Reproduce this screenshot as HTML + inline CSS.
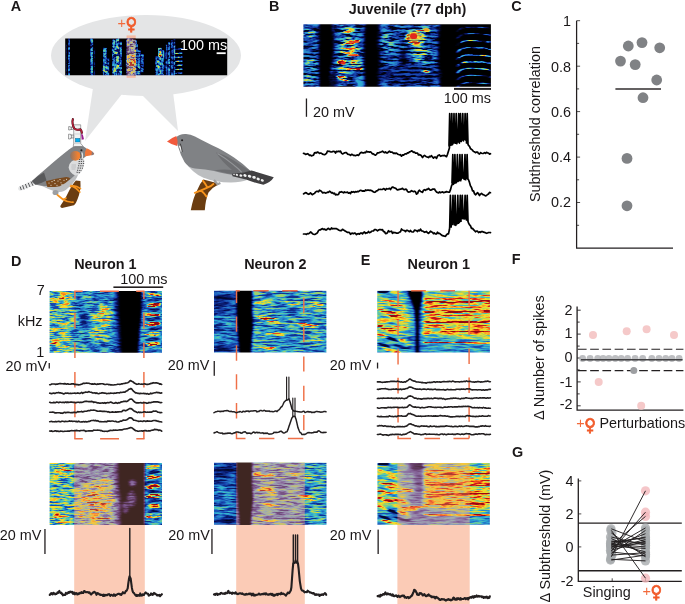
<!DOCTYPE html>
<html lang="en"><head><meta charset="utf-8"><title>Figure</title>
<style>
html,body{margin:0;padding:0;background:#fff;}
body{width:685px;height:604px;overflow:hidden;}
svg{display:block;will-change:transform;}
text{font-family:"Liberation Sans",sans-serif;font-size:14.4px;fill:#1a1718;}
.b{font-weight:bold;}
.o{fill:#f26a3b;}
.fem{font-family:"DejaVu Sans",sans-serif;font-weight:bold;font-size:16px;fill:#f15a29;stroke:#f15a29;stroke-width:0.7px;}
</style></head><body>
<svg width="685" height="604" viewBox="0 0 685 604">
<defs>
<linearGradient id="cheek" x1="0" x2="1" y1="0" y2="0"><stop offset="0" stop-color="#8a7468"/><stop offset="0.75" stop-color="#f08030"/></linearGradient>
<filter id="bl05" x="-0.5" y="-0.5" width="2" height="2"><feGaussianBlur stdDeviation="0.7"/></filter>
<filter id="bl1" x="-0.5" y="-0.5" width="2" height="2"><feGaussianBlur stdDeviation="1.2"/></filter>
<filter id="bl2" x="-0.5" y="-0.5" width="2" height="2"><feGaussianBlur stdDeviation="2.4"/></filter>
<filter id="bl3" x="-0.5" y="-0.5" width="2" height="2"><feGaussianBlur stdDeviation="3.6"/></filter>
<filter id="fA" x="0" y="0" width="1" height="1" color-interpolation-filters="sRGB"><feGaussianBlur in="SourceGraphic" stdDeviation="0.5 0.4" result="env"/><feTurbulence type="fractalNoise" baseFrequency="0.3 0.42" numOctaves="2" seed="4" result="t"/><feColorMatrix in="t" type="matrix" values="3.0 0 0 0 -1 3.0 0 0 0 -1 3.0 0 0 0 -1 0 0 0 0 1" result="n"/><feComposite in="env" in2="n" operator="arithmetic" k1="1.05" k2="0.16" k3="0" k4="0" result="v"/><feComponentTransfer in="v" result="jet"><feFuncR type="table" tableValues="0 0.031 0.086 0.149 0.188 0.439 0.784 0.98 0.98 0.894 0.588"/><feFuncG type="table" tableValues="0 0.071 0.259 0.471 0.698 0.796 0.847 0.871 0.549 0.157 0.039"/><feFuncB type="table" tableValues="0 0.373 0.675 0.784 0.831 0.588 0.275 0.157 0.118 0.118 0.078"/><feFuncA type="linear" slope="0" intercept="1"/></feComponentTransfer></filter>
<filter id="fAt" x="0" y="0" width="1" height="1" color-interpolation-filters="sRGB"><feGaussianBlur in="SourceGraphic" stdDeviation="0.5 0.4" result="env"/><feTurbulence type="fractalNoise" baseFrequency="0.3 0.42" numOctaves="2" seed="4" result="t"/><feColorMatrix in="t" type="matrix" values="3.0 0 0 0 -1 3.0 0 0 0 -1 3.0 0 0 0 -1 0 0 0 0 1" result="n"/><feComposite in="env" in2="n" operator="arithmetic" k1="1.05" k2="0.16" k3="0" k4="0" result="v"/><feComponentTransfer in="v" result="jet"><feFuncR type="table" tableValues="0 0.031 0.086 0.149 0.188 0.439 0.784 0.98 0.98 0.894 0.588"/><feFuncG type="table" tableValues="0 0.071 0.259 0.471 0.698 0.796 0.847 0.871 0.549 0.157 0.039"/><feFuncB type="table" tableValues="0 0.373 0.675 0.784 0.831 0.588 0.275 0.157 0.118 0.118 0.078"/><feFuncA type="linear" slope="0" intercept="1"/></feComponentTransfer><feColorMatrix in="jet" type="matrix" values="0.72 -0.04 0.32 0 0.247 0.10 0.60 0.10 0 0.149 0.0 0.0 0.68 0 0.133 0 0 0 1 0"/></filter>
<clipPath id="cbA"><rect x="126.6" y="38.4" width="9.1" height="36.8"/></clipPath>
<filter id="fB" x="0" y="0" width="1" height="1" color-interpolation-filters="sRGB"><feGaussianBlur in="SourceGraphic" stdDeviation="0.8 0.4" result="env"/><feTurbulence type="fractalNoise" baseFrequency="0.09 0.5" numOctaves="3" seed="11" result="t"/><feColorMatrix in="t" type="matrix" values="3.2 0 0 0 -1.1 3.2 0 0 0 -1.1 3.2 0 0 0 -1.1 0 0 0 0 1" result="n"/><feComposite in="env" in2="n" operator="arithmetic" k1="1.55" k2="0.12" k3="0" k4="0" result="v"/><feComponentTransfer in="v" result="jet"><feFuncR type="table" tableValues="0 0.031 0.086 0.149 0.188 0.439 0.784 0.98 0.98 0.894 0.588"/><feFuncG type="table" tableValues="0 0.071 0.259 0.471 0.698 0.796 0.847 0.871 0.549 0.157 0.039"/><feFuncB type="table" tableValues="0 0.373 0.675 0.784 0.831 0.588 0.275 0.157 0.118 0.118 0.078"/><feFuncA type="linear" slope="0" intercept="1"/></feComponentTransfer></filter>
<filter id="fD1" x="0" y="0" width="1" height="1" color-interpolation-filters="sRGB"><feGaussianBlur in="SourceGraphic" stdDeviation="1.0 0.5" result="env"/><feTurbulence type="fractalNoise" baseFrequency="0.1 0.6" numOctaves="3" seed="3" result="t"/><feColorMatrix in="t" type="matrix" values="2.7 0 0 0 -0.85 2.7 0 0 0 -0.85 2.7 0 0 0 -0.85 0 0 0 0 1" result="n"/><feComposite in="env" in2="n" operator="arithmetic" k1="1.05" k2="0.45" k3="0" k4="0" result="v"/><feComponentTransfer in="v" result="jet"><feFuncR type="table" tableValues="0 0.031 0.086 0.149 0.188 0.439 0.784 0.98 0.98 0.894 0.588"/><feFuncG type="table" tableValues="0 0.071 0.259 0.471 0.698 0.796 0.847 0.871 0.549 0.157 0.039"/><feFuncB type="table" tableValues="0 0.373 0.675 0.784 0.831 0.588 0.275 0.157 0.118 0.118 0.078"/><feFuncA type="linear" slope="0" intercept="1"/></feComponentTransfer></filter>
<filter id="fD2" x="0" y="0" width="1" height="1" color-interpolation-filters="sRGB"><feGaussianBlur in="SourceGraphic" stdDeviation="1.0 0.5" result="env"/><feTurbulence type="fractalNoise" baseFrequency="0.08 0.6" numOctaves="3" seed="8" result="t"/><feColorMatrix in="t" type="matrix" values="2.7 0 0 0 -0.85 2.7 0 0 0 -0.85 2.7 0 0 0 -0.85 0 0 0 0 1" result="n"/><feComposite in="env" in2="n" operator="arithmetic" k1="1.05" k2="0.45" k3="0" k4="0" result="v"/><feComponentTransfer in="v" result="jet"><feFuncR type="table" tableValues="0 0.031 0.086 0.149 0.188 0.439 0.784 0.98 0.98 0.894 0.588"/><feFuncG type="table" tableValues="0 0.071 0.259 0.471 0.698 0.796 0.847 0.871 0.549 0.157 0.039"/><feFuncB type="table" tableValues="0 0.373 0.675 0.784 0.831 0.588 0.275 0.157 0.118 0.118 0.078"/><feFuncA type="linear" slope="0" intercept="1"/></feComponentTransfer></filter>
<filter id="fE" x="0" y="0" width="1" height="1" color-interpolation-filters="sRGB"><feGaussianBlur in="SourceGraphic" stdDeviation="0.8 0.4" result="env"/><feTurbulence type="fractalNoise" baseFrequency="0.07 0.6" numOctaves="3" seed="5" result="t"/><feColorMatrix in="t" type="matrix" values="2.4 0 0 0 -0.7 2.4 0 0 0 -0.7 2.4 0 0 0 -0.7 0 0 0 0 1" result="n"/><feComposite in="env" in2="n" operator="arithmetic" k1="0.78" k2="0.62" k3="0" k4="0" result="v"/><feComponentTransfer in="v" result="jet"><feFuncR type="table" tableValues="0 0.031 0.086 0.149 0.188 0.439 0.784 0.98 0.98 0.894 0.588"/><feFuncG type="table" tableValues="0 0.071 0.259 0.471 0.698 0.796 0.847 0.871 0.549 0.157 0.039"/><feFuncB type="table" tableValues="0 0.373 0.675 0.784 0.831 0.588 0.275 0.157 0.118 0.118 0.078"/><feFuncA type="linear" slope="0" intercept="1"/></feComponentTransfer></filter>
<filter id="fD1t" x="0" y="0" width="1" height="1" color-interpolation-filters="sRGB"><feGaussianBlur in="SourceGraphic" stdDeviation="1.0 0.5" result="env"/><feTurbulence type="fractalNoise" baseFrequency="0.1 0.6" numOctaves="3" seed="3" result="t"/><feColorMatrix in="t" type="matrix" values="2.7 0 0 0 -0.85 2.7 0 0 0 -0.85 2.7 0 0 0 -0.85 0 0 0 0 1" result="n"/><feComposite in="env" in2="n" operator="arithmetic" k1="1.05" k2="0.45" k3="0" k4="0" result="v"/><feComponentTransfer in="v" result="jet"><feFuncR type="table" tableValues="0 0.031 0.086 0.149 0.188 0.439 0.784 0.98 0.98 0.894 0.588"/><feFuncG type="table" tableValues="0 0.071 0.259 0.471 0.698 0.796 0.847 0.871 0.549 0.157 0.039"/><feFuncB type="table" tableValues="0 0.373 0.675 0.784 0.831 0.588 0.275 0.157 0.118 0.118 0.078"/><feFuncA type="linear" slope="0" intercept="1"/></feComponentTransfer><feColorMatrix in="jet" type="matrix" values="0.72 -0.04 0.32 0 0.247 0.10 0.60 0.10 0 0.149 0.0 0.0 0.68 0 0.133 0 0 0 1 0"/></filter>
<filter id="fD2t" x="0" y="0" width="1" height="1" color-interpolation-filters="sRGB"><feGaussianBlur in="SourceGraphic" stdDeviation="1.0 0.5" result="env"/><feTurbulence type="fractalNoise" baseFrequency="0.08 0.6" numOctaves="3" seed="8" result="t"/><feColorMatrix in="t" type="matrix" values="2.7 0 0 0 -0.85 2.7 0 0 0 -0.85 2.7 0 0 0 -0.85 0 0 0 0 1" result="n"/><feComposite in="env" in2="n" operator="arithmetic" k1="1.05" k2="0.45" k3="0" k4="0" result="v"/><feComponentTransfer in="v" result="jet"><feFuncR type="table" tableValues="0 0.031 0.086 0.149 0.188 0.439 0.784 0.98 0.98 0.894 0.588"/><feFuncG type="table" tableValues="0 0.071 0.259 0.471 0.698 0.796 0.847 0.871 0.549 0.157 0.039"/><feFuncB type="table" tableValues="0 0.373 0.675 0.784 0.831 0.588 0.275 0.157 0.118 0.118 0.078"/><feFuncA type="linear" slope="0" intercept="1"/></feComponentTransfer><feColorMatrix in="jet" type="matrix" values="0.72 -0.04 0.32 0 0.247 0.10 0.60 0.10 0 0.149 0.0 0.0 0.68 0 0.133 0 0 0 1 0"/></filter>
<filter id="fEt" x="0" y="0" width="1" height="1" color-interpolation-filters="sRGB"><feGaussianBlur in="SourceGraphic" stdDeviation="0.8 0.4" result="env"/><feTurbulence type="fractalNoise" baseFrequency="0.07 0.6" numOctaves="3" seed="5" result="t"/><feColorMatrix in="t" type="matrix" values="2.4 0 0 0 -0.7 2.4 0 0 0 -0.7 2.4 0 0 0 -0.7 0 0 0 0 1" result="n"/><feComposite in="env" in2="n" operator="arithmetic" k1="0.78" k2="0.62" k3="0" k4="0" result="v"/><feComponentTransfer in="v" result="jet"><feFuncR type="table" tableValues="0 0.031 0.086 0.149 0.188 0.439 0.784 0.98 0.98 0.894 0.588"/><feFuncG type="table" tableValues="0 0.071 0.259 0.471 0.698 0.796 0.847 0.871 0.549 0.157 0.039"/><feFuncB type="table" tableValues="0 0.373 0.675 0.784 0.831 0.588 0.275 0.157 0.118 0.118 0.078"/><feFuncA type="linear" slope="0" intercept="1"/></feComponentTransfer><feColorMatrix in="jet" type="matrix" values="0.72 -0.04 0.32 0 0.247 0.10 0.60 0.10 0 0.149 0.0 0.0 0.68 0 0.133 0 0 0 1 0"/></filter>
<clipPath id="cA"><rect x="65.2" y="38.4" width="162" height="36.8"/></clipPath>
<clipPath id="cB"><rect x="303.4" y="24.3" width="187.5" height="62.4"/></clipPath>
<clipPath id="cD1"><rect x="49.6" y="291" width="112.4" height="61.8"/></clipPath>
<clipPath id="cD2"><rect x="214" y="290.8" width="112.4" height="61.6"/></clipPath>
<clipPath id="cE"><rect x="377.2" y="290.8" width="112.7" height="61.8"/></clipPath>
<clipPath id="cD1L"><rect x="49.6" y="463.1" width="112.4" height="62"/></clipPath>
<clipPath id="cD2L"><rect x="214" y="462.8" width="112.5" height="62"/></clipPath>
<clipPath id="cEL"><rect x="377.4" y="463" width="112.4" height="61.8"/></clipPath>
<clipPath id="cbD1L"><rect x="74.2" y="463.1" width="70.6" height="62"/></clipPath>
<clipPath id="cbD2L"><rect x="236.2" y="462.8" width="68.6" height="62"/></clipPath>
<clipPath id="cbEL"><rect x="397.4" y="463" width="72.3" height="61.8"/></clipPath>
</defs>
<g fill="#e4e5e6"><ellipse cx="146" cy="55.5" rx="95" ry="40.5"/><polygon points="93,88 122,94 85,141"/><polygon points="141,94 173,92 178,131"/></g>
<rect x="74.2" y="463.1" width="70.6" height="141.89999999999998" fill="#fbcbb6"/>
<rect x="236.2" y="462.8" width="68.6" height="142.2" fill="#fbcbb6"/>
<rect x="397.4" y="463" width="72.3" height="142" fill="#fbcbb6"/>
<rect x="126.6" y="35.4" width="9.1" height="42.4" fill="#f5bba3"/>
<g clip-path="url(#cA)"><g filter="url(#fA)">
<rect x="59.2" y="32.4" width="174.5" height="49.5" fill="rgb(0,0,0)"/>
<rect x="68.2" y="38.4" width="1.7" height="37.5" fill="rgb(92,92,92)"/>
<rect x="66.2" y="44.4" width="0.8" height="31.5" fill="rgb(31,31,31)"/>
<rect x="90.5" y="38.4" width="2.6" height="37.5" fill="rgb(102,102,102)"/>
<rect x="94.2" y="48.4" width="0.9" height="27.5" fill="rgb(36,36,36)"/>
<rect x="103.1" y="47.9" width="3.6" height="28.0" fill="rgb(107,107,107)"/>
<rect x="107.2" y="58.4" width="2" height="17.5" fill="rgb(76,76,76)"/>
<ellipse cx="105.2" cy="69.4" rx="2" ry="4" fill="rgb(153,153,153)" filter="url(#bl1)"/>
<rect x="112.3" y="39.4" width="3" height="36.5" fill="rgb(102,102,102)"/>
<rect x="115.8" y="38.4" width="3.4" height="37.5" fill="rgb(117,117,117)"/>
<rect x="119.7" y="41.4" width="2.2" height="34.5" fill="rgb(97,97,97)"/>
<ellipse cx="117.2" cy="68.4" rx="3" ry="5" fill="rgb(158,158,158)" filter="url(#bl1)"/>
<ellipse cx="115.2" cy="50.4" rx="2" ry="5" fill="rgb(133,133,133)" filter="url(#bl1)"/>
<rect x="126.6" y="38.4" width="3.6" height="37.5" fill="rgb(128,128,128)"/>
<rect x="130.3" y="38.4" width="3.4" height="37.5" fill="rgb(140,140,140)"/>
<rect x="133.9" y="40.4" width="2.6" height="35.5" fill="rgb(128,128,128)"/>
<ellipse cx="131.7" cy="62.4" rx="4.5" ry="8.5" fill="rgb(209,209,209)" filter="url(#bl1)"/>
<ellipse cx="131.4" cy="63.4" rx="2.5" ry="5" fill="rgb(242,242,242)"/>
<rect x="138.0" y="50.4" width="2.4" height="24" fill="rgb(107,107,107)"/>
<rect x="141.1" y="54.4" width="2.6" height="18" fill="rgb(92,92,92)"/>
<rect x="136.9" y="44.4" width="1" height="30" fill="rgb(76,76,76)"/>
<rect x="155.5" y="56.4" width="2.4" height="19" fill="rgb(92,92,92)"/>
<rect x="158.1" y="47.9" width="3.4" height="27.5" fill="rgb(112,112,112)"/>
<rect x="161.8" y="50.4" width="2.4" height="25" fill="rgb(102,102,102)"/>
<ellipse cx="160.2" cy="54.2" rx="1.8" ry="3.2" fill="rgb(242,242,242)"/>
<ellipse cx="158.7" cy="64.4" rx="1.8" ry="5" fill="rgb(148,148,148)" filter="url(#bl1)"/>
<rect x="165.9" y="44.4" width="1.6" height="31.5" fill="rgb(82,82,82)"/>
<rect x="168.2" y="42.4" width="2" height="33.5" fill="rgb(102,102,102)"/>
<rect x="171.2" y="40.4" width="1.6" height="35.5" fill="rgb(87,87,87)"/>
<rect x="173.6" y="39.4" width="1.6" height="36.5" fill="rgb(102,102,102)"/>
<rect x="164.7" y="52.4" width="1" height="23.5" fill="rgb(51,51,51)"/>
<line x1="175.7" y1="49.1" x2="182.0" y2="48.8" stroke="rgb(115,115,115)" stroke-width="1.0" stroke-linecap="round"/>
<line x1="175.7" y1="53.4" x2="182.0" y2="53.1" stroke="rgb(153,153,153)" stroke-width="1.0" stroke-linecap="round"/>
<line x1="175.7" y1="57.4" x2="182.0" y2="57.1" stroke="rgb(184,184,184)" stroke-width="1.0" stroke-linecap="round"/>
<line x1="175.7" y1="61.4" x2="182.0" y2="61.1" stroke="rgb(199,199,199)" stroke-width="1.0" stroke-linecap="round"/>
<line x1="175.7" y1="65.4" x2="182.0" y2="65.1" stroke="rgb(184,184,184)" stroke-width="1.0" stroke-linecap="round"/>
<line x1="175.7" y1="69.5" x2="182.0" y2="69.2" stroke="rgb(158,158,158)" stroke-width="1.0" stroke-linecap="round"/>
<line x1="175.7" y1="73.4" x2="182.0" y2="73.1" stroke="rgb(115,115,115)" stroke-width="1.0" stroke-linecap="round"/>
</g></g>
<g clip-path="url(#cbA)"><g filter="url(#fAt)">
<rect x="59.2" y="32.4" width="174.5" height="49.5" fill="rgb(0,0,0)"/>
<rect x="68.2" y="38.4" width="1.7" height="37.5" fill="rgb(92,92,92)"/>
<rect x="66.2" y="44.4" width="0.8" height="31.5" fill="rgb(31,31,31)"/>
<rect x="90.5" y="38.4" width="2.6" height="37.5" fill="rgb(102,102,102)"/>
<rect x="94.2" y="48.4" width="0.9" height="27.5" fill="rgb(36,36,36)"/>
<rect x="103.1" y="47.9" width="3.6" height="28.0" fill="rgb(107,107,107)"/>
<rect x="107.2" y="58.4" width="2" height="17.5" fill="rgb(76,76,76)"/>
<ellipse cx="105.2" cy="69.4" rx="2" ry="4" fill="rgb(153,153,153)" filter="url(#bl1)"/>
<rect x="112.3" y="39.4" width="3" height="36.5" fill="rgb(102,102,102)"/>
<rect x="115.8" y="38.4" width="3.4" height="37.5" fill="rgb(117,117,117)"/>
<rect x="119.7" y="41.4" width="2.2" height="34.5" fill="rgb(97,97,97)"/>
<ellipse cx="117.2" cy="68.4" rx="3" ry="5" fill="rgb(158,158,158)" filter="url(#bl1)"/>
<ellipse cx="115.2" cy="50.4" rx="2" ry="5" fill="rgb(133,133,133)" filter="url(#bl1)"/>
<rect x="126.6" y="38.4" width="3.6" height="37.5" fill="rgb(128,128,128)"/>
<rect x="130.3" y="38.4" width="3.4" height="37.5" fill="rgb(140,140,140)"/>
<rect x="133.9" y="40.4" width="2.6" height="35.5" fill="rgb(128,128,128)"/>
<ellipse cx="131.7" cy="62.4" rx="4.5" ry="8.5" fill="rgb(209,209,209)" filter="url(#bl1)"/>
<ellipse cx="131.4" cy="63.4" rx="2.5" ry="5" fill="rgb(242,242,242)"/>
<rect x="138.0" y="50.4" width="2.4" height="24" fill="rgb(107,107,107)"/>
<rect x="141.1" y="54.4" width="2.6" height="18" fill="rgb(92,92,92)"/>
<rect x="136.9" y="44.4" width="1" height="30" fill="rgb(76,76,76)"/>
<rect x="155.5" y="56.4" width="2.4" height="19" fill="rgb(92,92,92)"/>
<rect x="158.1" y="47.9" width="3.4" height="27.5" fill="rgb(112,112,112)"/>
<rect x="161.8" y="50.4" width="2.4" height="25" fill="rgb(102,102,102)"/>
<ellipse cx="160.2" cy="54.2" rx="1.8" ry="3.2" fill="rgb(242,242,242)"/>
<ellipse cx="158.7" cy="64.4" rx="1.8" ry="5" fill="rgb(148,148,148)" filter="url(#bl1)"/>
<rect x="165.9" y="44.4" width="1.6" height="31.5" fill="rgb(82,82,82)"/>
<rect x="168.2" y="42.4" width="2" height="33.5" fill="rgb(102,102,102)"/>
<rect x="171.2" y="40.4" width="1.6" height="35.5" fill="rgb(87,87,87)"/>
<rect x="173.6" y="39.4" width="1.6" height="36.5" fill="rgb(102,102,102)"/>
<rect x="164.7" y="52.4" width="1" height="23.5" fill="rgb(51,51,51)"/>
<line x1="175.7" y1="49.1" x2="182.0" y2="48.8" stroke="rgb(115,115,115)" stroke-width="1.0" stroke-linecap="round"/>
<line x1="175.7" y1="53.4" x2="182.0" y2="53.1" stroke="rgb(153,153,153)" stroke-width="1.0" stroke-linecap="round"/>
<line x1="175.7" y1="57.4" x2="182.0" y2="57.1" stroke="rgb(184,184,184)" stroke-width="1.0" stroke-linecap="round"/>
<line x1="175.7" y1="61.4" x2="182.0" y2="61.1" stroke="rgb(199,199,199)" stroke-width="1.0" stroke-linecap="round"/>
<line x1="175.7" y1="65.4" x2="182.0" y2="65.1" stroke="rgb(184,184,184)" stroke-width="1.0" stroke-linecap="round"/>
<line x1="175.7" y1="69.5" x2="182.0" y2="69.2" stroke="rgb(158,158,158)" stroke-width="1.0" stroke-linecap="round"/>
<line x1="175.7" y1="73.4" x2="182.0" y2="73.1" stroke="rgb(115,115,115)" stroke-width="1.0" stroke-linecap="round"/>
</g></g>
<g clip-path="url(#cB)"><g filter="url(#fB)">
<rect x="297.4" y="18.3" width="199.3" height="74" fill="rgb(0,0,0)"/>
<rect x="297.4" y="18.3" width="22" height="74" fill="rgb(51,51,51)"/>
<ellipse cx="309.4" cy="34.3" rx="7" ry="5" fill="rgb(92,92,92)" filter="url(#bl1)"/>
<ellipse cx="311.4" cy="64.3" rx="7" ry="6" fill="rgb(92,92,92)" filter="url(#bl1)"/>
<ellipse cx="308.4" cy="79.3" rx="6" ry="4" fill="rgb(97,97,97)" filter="url(#bl1)"/>
<ellipse cx="322.4" cy="54.3" rx="3.5" ry="40" fill="rgb(0,0,0)" filter="url(#bl1)"/>
<rect x="330.4" y="18.3" width="36" height="74" fill="rgb(59,59,59)"/>
<ellipse cx="329.4" cy="44.3" rx="5" ry="26" fill="rgb(5,5,5)" filter="url(#bl1)"/>
<ellipse cx="367.4" cy="54.3" rx="4" ry="40" fill="rgb(5,5,5)" filter="url(#bl1)"/>
<ellipse cx="333.4" cy="80.3" rx="5" ry="8" fill="rgb(13,13,13)" filter="url(#bl1)"/>
<ellipse cx="349.4" cy="42.3" rx="9" ry="4" fill="rgb(148,148,148)" filter="url(#bl1)"/>
<ellipse cx="354.4" cy="41.3" rx="5" ry="1.4" fill="rgb(230,230,230)"/>
<ellipse cx="355.4" cy="55.3" rx="7" ry="1.7" fill="rgb(230,230,230)"/>
<ellipse cx="343.4" cy="62.3" rx="5" ry="2.4" fill="rgb(242,242,242)"/>
<ellipse cx="350.4" cy="50.3" rx="10" ry="5" fill="rgb(133,133,133)" filter="url(#bl1)"/>
<ellipse cx="353.4" cy="63.3" rx="8" ry="3" fill="rgb(158,158,158)" filter="url(#bl1)"/>
<ellipse cx="343.4" cy="78.3" rx="7" ry="2" fill="rgb(178,178,178)" transform="rotate(15 343.4 78.3)"/>
<ellipse cx="349.4" cy="31.3" rx="7" ry="3" fill="rgb(128,128,128)" filter="url(#bl1)"/>
<ellipse cx="355.4" cy="69.3" rx="8" ry="1.4" fill="rgb(173,173,173)"/>
<ellipse cx="343.4" cy="70.3" rx="6" ry="3" fill="rgb(128,128,128)" filter="url(#bl1)"/>
<rect x="377.4" y="18.3" width="64" height="74" fill="rgb(51,51,51)"/>
<ellipse cx="376.4" cy="54.3" rx="4" ry="40" fill="rgb(0,0,0)" filter="url(#bl1)"/>
<ellipse cx="442.4" cy="54.3" rx="4.5" ry="40" fill="rgb(0,0,0)" filter="url(#bl1)"/>
<ellipse cx="415.4" cy="37.3" rx="10" ry="8" fill="rgb(158,158,158)" filter="url(#bl1)"/>
<ellipse cx="413.4" cy="36.3" rx="5" ry="3.4" fill="rgb(242,242,242)"/>
<ellipse cx="417.4" cy="40.3" rx="3" ry="2" fill="rgb(230,230,230)"/>
<ellipse cx="424.4" cy="30.3" rx="5" ry="3" fill="rgb(158,158,158)" filter="url(#bl1)"/>
<ellipse cx="421.4" cy="56.3" rx="9" ry="12" fill="rgb(102,102,102)" filter="url(#bl2)"/>
<ellipse cx="387.4" cy="42.3" rx="7" ry="10" fill="rgb(87,87,87)" filter="url(#bl2)"/>
<ellipse cx="391.4" cy="70.3" rx="9" ry="8" fill="rgb(76,76,76)" filter="url(#bl2)"/>
<ellipse cx="423.4" cy="71.3" rx="5" ry="1.8" fill="rgb(153,153,153)"/>
<ellipse cx="403.4" cy="64.3" rx="4" ry="14" fill="rgb(10,10,10)" filter="url(#bl1)"/>
<ellipse cx="431.4" cy="64.3" rx="5" ry="10" fill="rgb(66,66,66)" filter="url(#bl1)"/>
<ellipse cx="409.4" cy="74.3" rx="30" ry="12" fill="rgb(33,33,33)" filter="url(#bl2)"/>
<ellipse cx="425.4" cy="71.8" rx="4" ry="1.6" fill="rgb(153,153,153)"/>
<path d="M457.4,31.4 Q460.4,26.7 471.4,26.9 T490.4,28.5" fill="none" stroke="rgb(56,56,56)" stroke-width="0.9" stroke-linecap="round"/>
<path d="M457.4,38.1 Q460.4,33.4 471.4,33.6 T490.4,35.2" fill="none" stroke="rgb(66,66,66)" stroke-width="0.9" stroke-linecap="round"/>
<path d="M457.4,45.0 Q460.4,40.3 471.4,40.5 T490.4,42.1" fill="none" stroke="rgb(117,117,117)" stroke-width="1.1" stroke-linecap="round"/>
<path d="M457.4,52.0 Q460.4,47.3 471.4,47.5 T490.4,49.1" fill="none" stroke="rgb(128,128,128)" stroke-width="1.1" stroke-linecap="round"/>
<path d="M457.4,59.2 Q460.4,54.5 471.4,54.7 T490.4,56.3" fill="none" stroke="rgb(143,143,143)" stroke-width="1.1" stroke-linecap="round"/>
<path d="M457.4,66.1 Q460.4,61.4 471.4,61.6 T490.4,63.2" fill="none" stroke="rgb(143,143,143)" stroke-width="1.1" stroke-linecap="round"/>
<path d="M457.4,72.8 Q460.4,68.1 471.4,68.3 T490.4,69.9" fill="none" stroke="rgb(128,128,128)" stroke-width="1.1" stroke-linecap="round"/>
<path d="M457.4,79.8 Q460.4,75.1 471.4,75.3 T490.4,76.9" fill="none" stroke="rgb(97,97,97)" stroke-width="0.9" stroke-linecap="round"/>
<path d="M457.4,87.1 Q460.4,82.4 471.4,82.6 T490.4,84.2" fill="none" stroke="rgb(92,92,92)" stroke-width="0.9" stroke-linecap="round"/>
</g></g>
<g clip-path="url(#cB)"><ellipse cx="414.6" cy="36.6" rx="6.5" ry="5.2" fill="#f4e23c" fill-opacity="0.75" filter="url(#bl1)"/><ellipse cx="413.6" cy="36.2" rx="3.6" ry="2.9" fill="#e2281e" filter="url(#bl05)"/><ellipse cx="426.4" cy="29.6" rx="3" ry="1.5" fill="#f6b12c" fill-opacity="0.9" filter="url(#bl05)"/><ellipse cx="343.2" cy="63" rx="2.6" ry="1.5" fill="#e2281e" filter="url(#bl05)"/><ellipse cx="354" cy="41.9" rx="5.5" ry="0.9" fill="#e8401e" filter="url(#bl05)"/><ellipse cx="354" cy="55.3" rx="5.5" ry="0.9" fill="#e8401e" filter="url(#bl05)"/></g>
<g clip-path="url(#cD1)"><g filter="url(#fD1)">
<rect x="43.6" y="285" width="124.4" height="74" fill="rgb(97,97,97)"/>
<rect x="43.6" y="285" width="30" height="74" fill="rgb(115,115,115)"/>
<ellipse cx="62.6" cy="299" rx="11" ry="6" fill="rgb(153,153,153)" transform="rotate(15 62.6 299)" filter="url(#bl2)"/>
<ellipse cx="66.6" cy="298.5" rx="5" ry="1.5" fill="rgb(191,191,191)" transform="rotate(10 66.6 298.5)" filter="url(#bl1)"/>
<ellipse cx="60.6" cy="327" rx="10" ry="9" fill="rgb(128,128,128)" transform="rotate(-10 60.6 327)" filter="url(#bl2)"/>
<ellipse cx="59.6" cy="346" rx="10" ry="6" fill="rgb(153,153,153)" transform="rotate(10 59.6 346)" filter="url(#bl2)"/>
<ellipse cx="55.6" cy="343" rx="4" ry="1.5" fill="rgb(191,191,191)" filter="url(#bl1)"/>
<ellipse cx="84.6" cy="321" rx="5" ry="30" fill="rgb(61,61,61)" transform="rotate(-14 84.6 321)" filter="url(#bl2)"/>
<ellipse cx="104.6" cy="316" rx="11" ry="11" fill="rgb(143,143,143)" transform="rotate(-20 104.6 316)" filter="url(#bl2)"/>
<ellipse cx="97.6" cy="334" rx="10" ry="6" fill="rgb(138,138,138)" filter="url(#bl2)"/>
<ellipse cx="105.6" cy="297" rx="13" ry="5" fill="rgb(71,71,71)" filter="url(#bl2)"/>
<ellipse cx="101.6" cy="348" rx="16" ry="4" fill="rgb(76,76,76)" filter="url(#bl2)"/>
<ellipse cx="93.6" cy="348" rx="4" ry="1.2" fill="rgb(153,153,153)" filter="url(#bl1)"/>
<ellipse cx="115.6" cy="321" rx="3.5" ry="34" fill="rgb(66,66,66)" filter="url(#bl2)"/>
<polygon points="114.6,283 142.4,283 142.1,313 140.1,331 138.4,361 117.6,361 116.6,331 115.1,311" fill="rgb(26,26,26)" filter="url(#bl1)"/>
<polygon points="118.1,283 141.9,283 141.6,313 139.6,331 137.9,361 121.1,361 120.1,331 118.6,311" fill="rgb(0,0,0)"/>
<rect x="142.6" y="285" width="26" height="74" fill="rgb(84,84,84)"/>
<ellipse cx="153.1" cy="295" rx="7.5" ry="2.0" fill="rgb(184,184,184)" transform="rotate(-4 153.1 295)"/>
<ellipse cx="153.1" cy="305" rx="7.5" ry="2.0" fill="rgb(235,235,235)" transform="rotate(-4 153.1 305)"/>
<ellipse cx="153.1" cy="314.5" rx="7.5" ry="2.0" fill="rgb(235,235,235)" transform="rotate(-4 153.1 314.5)"/>
<ellipse cx="153.1" cy="324" rx="7.5" ry="2.0" fill="rgb(235,235,235)" transform="rotate(-4 153.1 324)"/>
<ellipse cx="153.1" cy="334" rx="7.5" ry="2.0" fill="rgb(184,184,184)" transform="rotate(-4 153.1 334)"/>
<ellipse cx="153.1" cy="344" rx="7.5" ry="2.0" fill="rgb(184,184,184)" transform="rotate(-4 153.1 344)"/>
<ellipse cx="153.6" cy="300" rx="7" ry="1.6" fill="rgb(41,41,41)" transform="rotate(-4 153.6 300)"/>
<ellipse cx="153.6" cy="309.7" rx="7" ry="1.6" fill="rgb(41,41,41)" transform="rotate(-4 153.6 309.7)"/>
<ellipse cx="153.6" cy="319.2" rx="7" ry="1.6" fill="rgb(41,41,41)" transform="rotate(-4 153.6 319.2)"/>
<ellipse cx="153.6" cy="329" rx="7" ry="1.6" fill="rgb(41,41,41)" transform="rotate(-4 153.6 329)"/>
<ellipse cx="153.6" cy="339" rx="7" ry="1.6" fill="rgb(41,41,41)" transform="rotate(-4 153.6 339)"/>
</g></g>
<g clip-path="url(#cD2)"><g filter="url(#fD2)">
<rect x="208" y="284.8" width="124.4" height="74" fill="rgb(94,94,94)"/>
<rect x="208" y="284.8" width="29.5" height="74" fill="rgb(61,61,61)"/>
<ellipse cx="224" cy="320.8" rx="12" ry="5" fill="rgb(84,84,84)" filter="url(#bl2)"/>
<ellipse cx="222" cy="336.8" rx="10" ry="4" fill="rgb(87,87,87)" filter="url(#bl2)"/>
<ellipse cx="224" cy="297.8" rx="12" ry="2.2" fill="rgb(10,10,10)" filter="url(#bl1)"/>
<ellipse cx="222" cy="303.8" rx="9" ry="1.5" fill="rgb(15,15,15)" filter="url(#bl1)"/>
<ellipse cx="224" cy="348.8" rx="10" ry="2" fill="rgb(15,15,15)" filter="url(#bl1)"/>
<ellipse cx="220" cy="310.8" rx="7" ry="1.3" fill="rgb(20,20,20)" filter="url(#bl1)"/>
<polygon points="236.3,282.8 252.8,282.8 252.5,310.8 253.5,326.8 252,340.8 251,360.8 239.5,360.8 237.5,330.8 236.3,310.8" fill="rgb(0,0,0)"/>
<ellipse cx="264" cy="302.8" rx="11" ry="2.2" fill="rgb(158,158,158)" transform="rotate(5 264 302.8)"/>
<ellipse cx="266" cy="317.8" rx="9" ry="2.2" fill="rgb(189,189,189)" transform="rotate(8 266 317.8)"/>
<ellipse cx="274" cy="321.8" rx="6" ry="1.8" fill="rgb(158,158,158)" transform="rotate(10 274 321.8)"/>
<ellipse cx="274" cy="333.8" rx="11" ry="2.0" fill="rgb(148,148,148)" transform="rotate(8 274 333.8)"/>
<ellipse cx="269" cy="347.8" rx="9" ry="1.6" fill="rgb(153,153,153)" transform="rotate(3 269 347.8)"/>
<ellipse cx="294" cy="302.8" rx="9" ry="2" fill="rgb(140,140,140)" transform="rotate(5 294 302.8)"/>
<ellipse cx="309" cy="325.8" rx="12" ry="2.5" fill="rgb(153,153,153)" transform="rotate(8 309 325.8)"/>
<ellipse cx="314" cy="304.8" rx="10" ry="2.5" fill="rgb(140,140,140)" transform="rotate(5 314 304.8)"/>
<ellipse cx="312" cy="338.8" rx="10" ry="2" fill="rgb(133,133,133)" transform="rotate(5 312 338.8)"/>
<ellipse cx="289" cy="342.8" rx="14" ry="4" fill="rgb(76,76,76)" transform="rotate(5 289 342.8)" filter="url(#bl2)"/>
<ellipse cx="284" cy="312.8" rx="10" ry="3" fill="rgb(76,76,76)" transform="rotate(5 284 312.8)" filter="url(#bl2)"/>
</g></g>
<g clip-path="url(#cE)"><g filter="url(#fE)">
<rect x="371.2" y="284.8" width="124.4" height="74" fill="rgb(148,148,148)"/>
<rect x="371.2" y="284.8" width="36" height="74" fill="rgb(140,140,140)"/>
<ellipse cx="387.2" cy="296.8" rx="14" ry="5" fill="rgb(102,102,102)" filter="url(#bl2)"/>
<ellipse cx="385.2" cy="299.8" rx="10" ry="1.6" fill="rgb(158,158,158)" transform="rotate(12 385.2 299.8)"/>
<ellipse cx="389.2" cy="312.8" rx="12" ry="2" fill="rgb(204,204,204)" transform="rotate(15 389.2 312.8)"/>
<ellipse cx="399.2" cy="317.8" rx="10" ry="2" fill="rgb(204,204,204)" transform="rotate(15 399.2 317.8)"/>
<ellipse cx="385.2" cy="320.8" rx="9" ry="1.8" fill="rgb(199,199,199)" transform="rotate(15 385.2 320.8)"/>
<ellipse cx="387.2" cy="328.8" rx="11" ry="2" fill="rgb(209,209,209)" transform="rotate(18 387.2 328.8)"/>
<ellipse cx="401.2" cy="326.8" rx="8" ry="1.8" fill="rgb(194,194,194)" transform="rotate(15 401.2 326.8)"/>
<ellipse cx="397.2" cy="305.8" rx="10" ry="2" fill="rgb(173,173,173)" transform="rotate(15 397.2 305.8)"/>
<ellipse cx="383.2" cy="291.8" rx="7" ry="1.4" fill="rgb(10,10,10)"/>
<ellipse cx="391.2" cy="308.3" rx="9" ry="1.3" fill="rgb(92,92,92)" transform="rotate(15 391.2 308.3)"/>
<ellipse cx="393.2" cy="323.8" rx="9" ry="1.2" fill="rgb(97,97,97)" transform="rotate(15 393.2 323.8)"/>
<ellipse cx="383.2" cy="316.3" rx="6" ry="1.2" fill="rgb(92,92,92)" transform="rotate(15 383.2 316.3)"/>
<polygon points="369.2,336.8 421.2,334.8 497.2,340.8 497.2,360.8 369.2,360.8" fill="rgb(92,92,92)" filter="url(#bl2)"/>
<ellipse cx="391.2" cy="338.8" rx="9" ry="1.6" fill="rgb(13,13,13)" transform="rotate(18 391.2 338.8)"/>
<ellipse cx="384.2" cy="345.3" rx="7" ry="1.5" fill="rgb(15,15,15)" transform="rotate(18 384.2 345.3)"/>
<ellipse cx="401.2" cy="346.8" rx="8" ry="1.4" fill="rgb(26,26,26)" transform="rotate(15 401.2 346.8)"/>
<ellipse cx="413.2" cy="338.8" rx="6" ry="1.8" fill="rgb(10,10,10)" transform="rotate(5 413.2 338.8)"/>
<ellipse cx="412.2" cy="347.8" rx="5" ry="2" fill="rgb(13,13,13)" transform="rotate(5 412.2 347.8)"/>
<ellipse cx="405.2" cy="341.8" rx="10" ry="1.8" fill="rgb(178,178,178)" transform="rotate(20 405.2 341.8)"/>
<ellipse cx="391.2" cy="350.3" rx="10" ry="1.6" fill="rgb(191,191,191)" transform="rotate(15 391.2 350.3)"/>
<ellipse cx="382.2" cy="335.8" rx="6" ry="1.5" fill="rgb(178,178,178)" transform="rotate(20 382.2 335.8)"/>
<polygon points="402.2,282.8 413.2,282.8 417.2,320.8 417.2,360.8 411.2,360.8 410.2,320.8" fill="rgb(82,82,82)" filter="url(#bl2)"/>
<polygon points="417.2,282.8 425.7,282.8 422.7,316.8 422.2,360.8 417.2,360.8" fill="rgb(76,76,76)" filter="url(#bl1)"/>
<polygon points="406.5,282.8 422.8,282.8 422.4,296.8 421.0,304.8 419.7,310.8 419.2,324.8 419.2,360.8 415.4,360.8 415.4,324.8 414.2,310.8 411.7,302.8 408.2,294.8" fill="rgb(0,0,0)"/>
<polygon points="424.2,296.8 497.2,294.8 497.2,333.8 423.2,334.8" fill="rgb(173,173,173)" filter="url(#bl1)"/>
<line x1="426.2" y1="302.3" x2="495.2" y2="301.3" stroke="rgb(255,255,255)" stroke-width="1.6" stroke-linecap="round"/>
<line x1="426.2" y1="312.3" x2="495.2" y2="311.3" stroke="rgb(255,255,255)" stroke-width="1.6" stroke-linecap="round"/>
<line x1="426.2" y1="322.3" x2="495.2" y2="321.3" stroke="rgb(255,255,255)" stroke-width="1.6" stroke-linecap="round"/>
<line x1="426.2" y1="332.3" x2="495.2" y2="331.3" stroke="rgb(255,255,255)" stroke-width="1.6" stroke-linecap="round"/>
<line x1="424.2" y1="342.6" x2="495.2" y2="342.8" stroke="rgb(217,217,217)" stroke-width="1.4" stroke-linecap="round"/>
<rect x="423.2" y="284.8" width="80" height="10" fill="rgb(128,128,128)"/>
</g></g>
<g clip-path="url(#cD1L)"><g filter="url(#fD1)">
<rect x="43.6" y="457.1" width="124.4" height="74" fill="rgb(97,97,97)"/>
<rect x="43.6" y="457.1" width="30" height="74" fill="rgb(115,115,115)"/>
<ellipse cx="62.6" cy="471.1" rx="11" ry="6" fill="rgb(153,153,153)" transform="rotate(15 62.6 471.1)" filter="url(#bl2)"/>
<ellipse cx="66.6" cy="470.6" rx="5" ry="1.5" fill="rgb(191,191,191)" transform="rotate(10 66.6 470.6)" filter="url(#bl1)"/>
<ellipse cx="60.6" cy="499.1" rx="10" ry="9" fill="rgb(128,128,128)" transform="rotate(-10 60.6 499.1)" filter="url(#bl2)"/>
<ellipse cx="59.6" cy="518.1" rx="10" ry="6" fill="rgb(153,153,153)" transform="rotate(10 59.6 518.1)" filter="url(#bl2)"/>
<ellipse cx="55.6" cy="515.1" rx="4" ry="1.5" fill="rgb(191,191,191)" filter="url(#bl1)"/>
<ellipse cx="84.6" cy="493.1" rx="5" ry="30" fill="rgb(61,61,61)" transform="rotate(-14 84.6 493.1)" filter="url(#bl2)"/>
<ellipse cx="104.6" cy="488.1" rx="11" ry="11" fill="rgb(143,143,143)" transform="rotate(-20 104.6 488.1)" filter="url(#bl2)"/>
<ellipse cx="97.6" cy="506.1" rx="10" ry="6" fill="rgb(138,138,138)" filter="url(#bl2)"/>
<ellipse cx="105.6" cy="469.1" rx="13" ry="5" fill="rgb(71,71,71)" filter="url(#bl2)"/>
<ellipse cx="101.6" cy="520.1" rx="16" ry="4" fill="rgb(76,76,76)" filter="url(#bl2)"/>
<ellipse cx="93.6" cy="520.1" rx="4" ry="1.2" fill="rgb(153,153,153)" filter="url(#bl1)"/>
<ellipse cx="115.6" cy="493.1" rx="3.5" ry="34" fill="rgb(66,66,66)" filter="url(#bl2)"/>
<polygon points="114.6,455.1 142.4,455.1 142.1,485.1 140.1,503.1 138.4,533.1 117.6,533.1 116.6,503.1 115.1,483.1" fill="rgb(26,26,26)" filter="url(#bl1)"/>
<polygon points="118.1,455.1 141.9,455.1 141.6,485.1 139.6,503.1 137.9,533.1 121.1,533.1 120.1,503.1 118.6,483.1" fill="rgb(0,0,0)"/>
<rect x="142.6" y="457.1" width="26" height="74" fill="rgb(84,84,84)"/>
<ellipse cx="153.1" cy="467.1" rx="7.5" ry="2.0" fill="rgb(184,184,184)" transform="rotate(-4 153.1 467.1)"/>
<ellipse cx="153.1" cy="477.1" rx="7.5" ry="2.0" fill="rgb(235,235,235)" transform="rotate(-4 153.1 477.1)"/>
<ellipse cx="153.1" cy="486.6" rx="7.5" ry="2.0" fill="rgb(235,235,235)" transform="rotate(-4 153.1 486.6)"/>
<ellipse cx="153.1" cy="496.1" rx="7.5" ry="2.0" fill="rgb(235,235,235)" transform="rotate(-4 153.1 496.1)"/>
<ellipse cx="153.1" cy="506.1" rx="7.5" ry="2.0" fill="rgb(184,184,184)" transform="rotate(-4 153.1 506.1)"/>
<ellipse cx="153.1" cy="516.1" rx="7.5" ry="2.0" fill="rgb(184,184,184)" transform="rotate(-4 153.1 516.1)"/>
<ellipse cx="153.6" cy="472.1" rx="7" ry="1.6" fill="rgb(41,41,41)" transform="rotate(-4 153.6 472.1)"/>
<ellipse cx="153.6" cy="481.8" rx="7" ry="1.6" fill="rgb(41,41,41)" transform="rotate(-4 153.6 481.8)"/>
<ellipse cx="153.6" cy="491.3" rx="7" ry="1.6" fill="rgb(41,41,41)" transform="rotate(-4 153.6 491.3)"/>
<ellipse cx="153.6" cy="501.1" rx="7" ry="1.6" fill="rgb(41,41,41)" transform="rotate(-4 153.6 501.1)"/>
<ellipse cx="153.6" cy="511.1" rx="7" ry="1.6" fill="rgb(41,41,41)" transform="rotate(-4 153.6 511.1)"/>
<polygon points="135.6,455.1 144.8,455.1 144.8,533.1 135.6,533.1" fill="rgb(0,0,0)"/>
<ellipse cx="94.6" cy="503.1" rx="21" ry="21" fill="rgb(140,140,140)" filter="url(#bl3)"/>
<ellipse cx="89.6" cy="499.1" rx="14" ry="9" fill="rgb(153,153,153)" filter="url(#bl2)"/>
<ellipse cx="93.6" cy="503.6" rx="13" ry="1.5" fill="rgb(199,199,199)"/>
<ellipse cx="95.6" cy="495.1" rx="9" ry="1.3" fill="rgb(189,189,189)"/>
<ellipse cx="89.6" cy="510.1" rx="11" ry="1.4" fill="rgb(194,194,194)"/>
<ellipse cx="81.6" cy="515.1" rx="8" ry="1.3" fill="rgb(184,184,184)"/>
<ellipse cx="97.6" cy="487.1" rx="8" ry="1.3" fill="rgb(173,173,173)"/>
<ellipse cx="101.6" cy="518.1" rx="9" ry="1.3" fill="rgb(178,178,178)"/>
<ellipse cx="89.6" cy="473.1" rx="16" ry="7" fill="rgb(76,76,76)" filter="url(#bl2)"/>
<ellipse cx="132.6" cy="483.1" rx="3" ry="3" fill="rgb(56,56,56)" filter="url(#bl1)"/>
<ellipse cx="131.6" cy="499.1" rx="4" ry="8" fill="rgb(43,43,43)" filter="url(#bl1)"/>
<ellipse cx="125.6" cy="507.1" rx="3" ry="6" fill="rgb(36,36,36)" filter="url(#bl1)"/>
</g></g>
<g clip-path="url(#cbD1L)"><g filter="url(#fD1t)">
<rect x="43.6" y="457.1" width="124.4" height="74" fill="rgb(97,97,97)"/>
<rect x="43.6" y="457.1" width="30" height="74" fill="rgb(115,115,115)"/>
<ellipse cx="62.6" cy="471.1" rx="11" ry="6" fill="rgb(153,153,153)" transform="rotate(15 62.6 471.1)" filter="url(#bl2)"/>
<ellipse cx="66.6" cy="470.6" rx="5" ry="1.5" fill="rgb(191,191,191)" transform="rotate(10 66.6 470.6)" filter="url(#bl1)"/>
<ellipse cx="60.6" cy="499.1" rx="10" ry="9" fill="rgb(128,128,128)" transform="rotate(-10 60.6 499.1)" filter="url(#bl2)"/>
<ellipse cx="59.6" cy="518.1" rx="10" ry="6" fill="rgb(153,153,153)" transform="rotate(10 59.6 518.1)" filter="url(#bl2)"/>
<ellipse cx="55.6" cy="515.1" rx="4" ry="1.5" fill="rgb(191,191,191)" filter="url(#bl1)"/>
<ellipse cx="84.6" cy="493.1" rx="5" ry="30" fill="rgb(61,61,61)" transform="rotate(-14 84.6 493.1)" filter="url(#bl2)"/>
<ellipse cx="104.6" cy="488.1" rx="11" ry="11" fill="rgb(143,143,143)" transform="rotate(-20 104.6 488.1)" filter="url(#bl2)"/>
<ellipse cx="97.6" cy="506.1" rx="10" ry="6" fill="rgb(138,138,138)" filter="url(#bl2)"/>
<ellipse cx="105.6" cy="469.1" rx="13" ry="5" fill="rgb(71,71,71)" filter="url(#bl2)"/>
<ellipse cx="101.6" cy="520.1" rx="16" ry="4" fill="rgb(76,76,76)" filter="url(#bl2)"/>
<ellipse cx="93.6" cy="520.1" rx="4" ry="1.2" fill="rgb(153,153,153)" filter="url(#bl1)"/>
<ellipse cx="115.6" cy="493.1" rx="3.5" ry="34" fill="rgb(66,66,66)" filter="url(#bl2)"/>
<polygon points="114.6,455.1 142.4,455.1 142.1,485.1 140.1,503.1 138.4,533.1 117.6,533.1 116.6,503.1 115.1,483.1" fill="rgb(26,26,26)" filter="url(#bl1)"/>
<polygon points="118.1,455.1 141.9,455.1 141.6,485.1 139.6,503.1 137.9,533.1 121.1,533.1 120.1,503.1 118.6,483.1" fill="rgb(0,0,0)"/>
<rect x="142.6" y="457.1" width="26" height="74" fill="rgb(84,84,84)"/>
<ellipse cx="153.1" cy="467.1" rx="7.5" ry="2.0" fill="rgb(184,184,184)" transform="rotate(-4 153.1 467.1)"/>
<ellipse cx="153.1" cy="477.1" rx="7.5" ry="2.0" fill="rgb(235,235,235)" transform="rotate(-4 153.1 477.1)"/>
<ellipse cx="153.1" cy="486.6" rx="7.5" ry="2.0" fill="rgb(235,235,235)" transform="rotate(-4 153.1 486.6)"/>
<ellipse cx="153.1" cy="496.1" rx="7.5" ry="2.0" fill="rgb(235,235,235)" transform="rotate(-4 153.1 496.1)"/>
<ellipse cx="153.1" cy="506.1" rx="7.5" ry="2.0" fill="rgb(184,184,184)" transform="rotate(-4 153.1 506.1)"/>
<ellipse cx="153.1" cy="516.1" rx="7.5" ry="2.0" fill="rgb(184,184,184)" transform="rotate(-4 153.1 516.1)"/>
<ellipse cx="153.6" cy="472.1" rx="7" ry="1.6" fill="rgb(41,41,41)" transform="rotate(-4 153.6 472.1)"/>
<ellipse cx="153.6" cy="481.8" rx="7" ry="1.6" fill="rgb(41,41,41)" transform="rotate(-4 153.6 481.8)"/>
<ellipse cx="153.6" cy="491.3" rx="7" ry="1.6" fill="rgb(41,41,41)" transform="rotate(-4 153.6 491.3)"/>
<ellipse cx="153.6" cy="501.1" rx="7" ry="1.6" fill="rgb(41,41,41)" transform="rotate(-4 153.6 501.1)"/>
<ellipse cx="153.6" cy="511.1" rx="7" ry="1.6" fill="rgb(41,41,41)" transform="rotate(-4 153.6 511.1)"/>
<polygon points="135.6,455.1 144.8,455.1 144.8,533.1 135.6,533.1" fill="rgb(0,0,0)"/>
<ellipse cx="94.6" cy="503.1" rx="21" ry="21" fill="rgb(140,140,140)" filter="url(#bl3)"/>
<ellipse cx="89.6" cy="499.1" rx="14" ry="9" fill="rgb(153,153,153)" filter="url(#bl2)"/>
<ellipse cx="93.6" cy="503.6" rx="13" ry="1.5" fill="rgb(199,199,199)"/>
<ellipse cx="95.6" cy="495.1" rx="9" ry="1.3" fill="rgb(189,189,189)"/>
<ellipse cx="89.6" cy="510.1" rx="11" ry="1.4" fill="rgb(194,194,194)"/>
<ellipse cx="81.6" cy="515.1" rx="8" ry="1.3" fill="rgb(184,184,184)"/>
<ellipse cx="97.6" cy="487.1" rx="8" ry="1.3" fill="rgb(173,173,173)"/>
<ellipse cx="101.6" cy="518.1" rx="9" ry="1.3" fill="rgb(178,178,178)"/>
<ellipse cx="89.6" cy="473.1" rx="16" ry="7" fill="rgb(76,76,76)" filter="url(#bl2)"/>
<ellipse cx="132.6" cy="483.1" rx="3" ry="3" fill="rgb(56,56,56)" filter="url(#bl1)"/>
<ellipse cx="131.6" cy="499.1" rx="4" ry="8" fill="rgb(43,43,43)" filter="url(#bl1)"/>
<ellipse cx="125.6" cy="507.1" rx="3" ry="6" fill="rgb(36,36,36)" filter="url(#bl1)"/>
</g></g>
<g clip-path="url(#cD2L)"><g filter="url(#fD2)">
<rect x="208" y="456.8" width="124.4" height="74" fill="rgb(94,94,94)"/>
<rect x="208" y="456.8" width="29.5" height="74" fill="rgb(61,61,61)"/>
<ellipse cx="224" cy="492.8" rx="12" ry="5" fill="rgb(84,84,84)" filter="url(#bl2)"/>
<ellipse cx="222" cy="508.8" rx="10" ry="4" fill="rgb(87,87,87)" filter="url(#bl2)"/>
<ellipse cx="224" cy="469.8" rx="12" ry="2.2" fill="rgb(10,10,10)" filter="url(#bl1)"/>
<ellipse cx="222" cy="475.8" rx="9" ry="1.5" fill="rgb(15,15,15)" filter="url(#bl1)"/>
<ellipse cx="224" cy="520.8" rx="10" ry="2" fill="rgb(15,15,15)" filter="url(#bl1)"/>
<ellipse cx="220" cy="482.8" rx="7" ry="1.3" fill="rgb(20,20,20)" filter="url(#bl1)"/>
<polygon points="236.3,454.8 252.8,454.8 252.5,482.8 253.5,498.8 252,512.8 251,532.8 239.5,532.8 237.5,502.8 236.3,482.8" fill="rgb(0,0,0)"/>
<ellipse cx="264" cy="474.8" rx="11" ry="2.2" fill="rgb(158,158,158)" transform="rotate(5 264 474.8)"/>
<ellipse cx="266" cy="489.8" rx="9" ry="2.2" fill="rgb(189,189,189)" transform="rotate(8 266 489.8)"/>
<ellipse cx="274" cy="493.8" rx="6" ry="1.8" fill="rgb(158,158,158)" transform="rotate(10 274 493.8)"/>
<ellipse cx="274" cy="505.8" rx="11" ry="2.0" fill="rgb(148,148,148)" transform="rotate(8 274 505.8)"/>
<ellipse cx="269" cy="519.8" rx="9" ry="1.6" fill="rgb(153,153,153)" transform="rotate(3 269 519.8)"/>
<ellipse cx="294" cy="474.8" rx="9" ry="2" fill="rgb(140,140,140)" transform="rotate(5 294 474.8)"/>
<ellipse cx="309" cy="497.8" rx="12" ry="2.5" fill="rgb(153,153,153)" transform="rotate(8 309 497.8)"/>
<ellipse cx="314" cy="476.8" rx="10" ry="2.5" fill="rgb(140,140,140)" transform="rotate(5 314 476.8)"/>
<ellipse cx="312" cy="510.8" rx="10" ry="2" fill="rgb(133,133,133)" transform="rotate(5 312 510.8)"/>
<ellipse cx="289" cy="514.8" rx="14" ry="4" fill="rgb(76,76,76)" transform="rotate(5 289 514.8)" filter="url(#bl2)"/>
<ellipse cx="284" cy="484.8" rx="10" ry="3" fill="rgb(76,76,76)" transform="rotate(5 284 484.8)" filter="url(#bl2)"/>
</g></g>
<g clip-path="url(#cbD2L)"><g filter="url(#fD2t)">
<rect x="208" y="456.8" width="124.4" height="74" fill="rgb(94,94,94)"/>
<rect x="208" y="456.8" width="29.5" height="74" fill="rgb(61,61,61)"/>
<ellipse cx="224" cy="492.8" rx="12" ry="5" fill="rgb(84,84,84)" filter="url(#bl2)"/>
<ellipse cx="222" cy="508.8" rx="10" ry="4" fill="rgb(87,87,87)" filter="url(#bl2)"/>
<ellipse cx="224" cy="469.8" rx="12" ry="2.2" fill="rgb(10,10,10)" filter="url(#bl1)"/>
<ellipse cx="222" cy="475.8" rx="9" ry="1.5" fill="rgb(15,15,15)" filter="url(#bl1)"/>
<ellipse cx="224" cy="520.8" rx="10" ry="2" fill="rgb(15,15,15)" filter="url(#bl1)"/>
<ellipse cx="220" cy="482.8" rx="7" ry="1.3" fill="rgb(20,20,20)" filter="url(#bl1)"/>
<polygon points="236.3,454.8 252.8,454.8 252.5,482.8 253.5,498.8 252,512.8 251,532.8 239.5,532.8 237.5,502.8 236.3,482.8" fill="rgb(0,0,0)"/>
<ellipse cx="264" cy="474.8" rx="11" ry="2.2" fill="rgb(158,158,158)" transform="rotate(5 264 474.8)"/>
<ellipse cx="266" cy="489.8" rx="9" ry="2.2" fill="rgb(189,189,189)" transform="rotate(8 266 489.8)"/>
<ellipse cx="274" cy="493.8" rx="6" ry="1.8" fill="rgb(158,158,158)" transform="rotate(10 274 493.8)"/>
<ellipse cx="274" cy="505.8" rx="11" ry="2.0" fill="rgb(148,148,148)" transform="rotate(8 274 505.8)"/>
<ellipse cx="269" cy="519.8" rx="9" ry="1.6" fill="rgb(153,153,153)" transform="rotate(3 269 519.8)"/>
<ellipse cx="294" cy="474.8" rx="9" ry="2" fill="rgb(140,140,140)" transform="rotate(5 294 474.8)"/>
<ellipse cx="309" cy="497.8" rx="12" ry="2.5" fill="rgb(153,153,153)" transform="rotate(8 309 497.8)"/>
<ellipse cx="314" cy="476.8" rx="10" ry="2.5" fill="rgb(140,140,140)" transform="rotate(5 314 476.8)"/>
<ellipse cx="312" cy="510.8" rx="10" ry="2" fill="rgb(133,133,133)" transform="rotate(5 312 510.8)"/>
<ellipse cx="289" cy="514.8" rx="14" ry="4" fill="rgb(76,76,76)" transform="rotate(5 289 514.8)" filter="url(#bl2)"/>
<ellipse cx="284" cy="484.8" rx="10" ry="3" fill="rgb(76,76,76)" transform="rotate(5 284 484.8)" filter="url(#bl2)"/>
</g></g>
<g clip-path="url(#cEL)"><g filter="url(#fE)">
<rect x="371.4" y="457" width="124.4" height="74" fill="rgb(148,148,148)"/>
<rect x="371.4" y="457" width="36" height="74" fill="rgb(140,140,140)"/>
<ellipse cx="387.4" cy="469" rx="14" ry="5" fill="rgb(102,102,102)" filter="url(#bl2)"/>
<ellipse cx="385.4" cy="472" rx="10" ry="1.6" fill="rgb(158,158,158)" transform="rotate(12 385.4 472)"/>
<ellipse cx="389.4" cy="485" rx="12" ry="2" fill="rgb(204,204,204)" transform="rotate(15 389.4 485)"/>
<ellipse cx="399.4" cy="490" rx="10" ry="2" fill="rgb(204,204,204)" transform="rotate(15 399.4 490)"/>
<ellipse cx="385.4" cy="493" rx="9" ry="1.8" fill="rgb(199,199,199)" transform="rotate(15 385.4 493)"/>
<ellipse cx="387.4" cy="501" rx="11" ry="2" fill="rgb(209,209,209)" transform="rotate(18 387.4 501)"/>
<ellipse cx="401.4" cy="499" rx="8" ry="1.8" fill="rgb(194,194,194)" transform="rotate(15 401.4 499)"/>
<ellipse cx="397.4" cy="478" rx="10" ry="2" fill="rgb(173,173,173)" transform="rotate(15 397.4 478)"/>
<ellipse cx="383.4" cy="464" rx="7" ry="1.4" fill="rgb(10,10,10)"/>
<ellipse cx="391.4" cy="480.5" rx="9" ry="1.3" fill="rgb(92,92,92)" transform="rotate(15 391.4 480.5)"/>
<ellipse cx="393.4" cy="496" rx="9" ry="1.2" fill="rgb(97,97,97)" transform="rotate(15 393.4 496)"/>
<ellipse cx="383.4" cy="488.5" rx="6" ry="1.2" fill="rgb(92,92,92)" transform="rotate(15 383.4 488.5)"/>
<polygon points="369.4,509 421.4,507 497.4,513 497.4,533 369.4,533" fill="rgb(92,92,92)" filter="url(#bl2)"/>
<ellipse cx="391.4" cy="511" rx="9" ry="1.6" fill="rgb(13,13,13)" transform="rotate(18 391.4 511)"/>
<ellipse cx="384.4" cy="517.5" rx="7" ry="1.5" fill="rgb(15,15,15)" transform="rotate(18 384.4 517.5)"/>
<ellipse cx="401.4" cy="519" rx="8" ry="1.4" fill="rgb(26,26,26)" transform="rotate(15 401.4 519)"/>
<ellipse cx="413.4" cy="511" rx="6" ry="1.8" fill="rgb(10,10,10)" transform="rotate(5 413.4 511)"/>
<ellipse cx="412.4" cy="520" rx="5" ry="2" fill="rgb(13,13,13)" transform="rotate(5 412.4 520)"/>
<ellipse cx="405.4" cy="514" rx="10" ry="1.8" fill="rgb(178,178,178)" transform="rotate(20 405.4 514)"/>
<ellipse cx="391.4" cy="522.5" rx="10" ry="1.6" fill="rgb(191,191,191)" transform="rotate(15 391.4 522.5)"/>
<ellipse cx="382.4" cy="508" rx="6" ry="1.5" fill="rgb(178,178,178)" transform="rotate(20 382.4 508)"/>
<polygon points="401.4,455 427.4,455 425.4,497 423.4,533 411.4,533 407.4,497" fill="rgb(76,76,76)" filter="url(#bl2)"/>
<ellipse cx="416.4" cy="467" rx="9" ry="4.5" fill="rgb(23,23,23)" filter="url(#bl1)"/>
<ellipse cx="418.4" cy="479" rx="6" ry="8" fill="rgb(41,41,41)" filter="url(#bl1)"/>
<ellipse cx="418.4" cy="493" rx="4" ry="8" fill="rgb(56,56,56)" filter="url(#bl1)"/>
<ellipse cx="405.4" cy="481" rx="8" ry="14" fill="rgb(107,107,107)" filter="url(#bl2)"/>
<ellipse cx="402.4" cy="501" rx="8" ry="2" fill="rgb(204,204,204)" transform="rotate(8 402.4 501)"/>
<ellipse cx="407.4" cy="490" rx="7" ry="1.6" fill="rgb(199,199,199)" transform="rotate(8 407.4 490)"/>
<ellipse cx="407.4" cy="509" rx="10" ry="1.6" fill="rgb(209,209,209)" transform="rotate(4 407.4 509)"/>
<ellipse cx="417.4" cy="507" rx="8" ry="1.6" fill="rgb(204,204,204)" transform="rotate(2 417.4 507)"/>
<ellipse cx="422.4" cy="519" rx="12" ry="4" fill="rgb(71,71,71)" filter="url(#bl1)"/>
<ellipse cx="452.4" cy="520" rx="16" ry="3.5" fill="rgb(76,76,76)" filter="url(#bl1)"/>
<polygon points="424.4,469 497.4,467 497.4,506 423.4,507" fill="rgb(173,173,173)" filter="url(#bl1)"/>
<line x1="426.4" y1="474.5" x2="495.4" y2="473.5" stroke="rgb(255,255,255)" stroke-width="1.6" stroke-linecap="round"/>
<line x1="426.4" y1="484.5" x2="495.4" y2="483.5" stroke="rgb(255,255,255)" stroke-width="1.6" stroke-linecap="round"/>
<line x1="426.4" y1="494.5" x2="495.4" y2="493.5" stroke="rgb(255,255,255)" stroke-width="1.6" stroke-linecap="round"/>
<line x1="426.4" y1="504.5" x2="495.4" y2="503.5" stroke="rgb(255,255,255)" stroke-width="1.6" stroke-linecap="round"/>
<line x1="424.4" y1="514.8" x2="495.4" y2="515" stroke="rgb(217,217,217)" stroke-width="1.4" stroke-linecap="round"/>
<rect x="423.4" y="457" width="80" height="10" fill="rgb(128,128,128)"/>
</g></g>
<g clip-path="url(#cbEL)"><g filter="url(#fEt)">
<rect x="371.4" y="457" width="124.4" height="74" fill="rgb(148,148,148)"/>
<rect x="371.4" y="457" width="36" height="74" fill="rgb(140,140,140)"/>
<ellipse cx="387.4" cy="469" rx="14" ry="5" fill="rgb(102,102,102)" filter="url(#bl2)"/>
<ellipse cx="385.4" cy="472" rx="10" ry="1.6" fill="rgb(158,158,158)" transform="rotate(12 385.4 472)"/>
<ellipse cx="389.4" cy="485" rx="12" ry="2" fill="rgb(204,204,204)" transform="rotate(15 389.4 485)"/>
<ellipse cx="399.4" cy="490" rx="10" ry="2" fill="rgb(204,204,204)" transform="rotate(15 399.4 490)"/>
<ellipse cx="385.4" cy="493" rx="9" ry="1.8" fill="rgb(199,199,199)" transform="rotate(15 385.4 493)"/>
<ellipse cx="387.4" cy="501" rx="11" ry="2" fill="rgb(209,209,209)" transform="rotate(18 387.4 501)"/>
<ellipse cx="401.4" cy="499" rx="8" ry="1.8" fill="rgb(194,194,194)" transform="rotate(15 401.4 499)"/>
<ellipse cx="397.4" cy="478" rx="10" ry="2" fill="rgb(173,173,173)" transform="rotate(15 397.4 478)"/>
<ellipse cx="383.4" cy="464" rx="7" ry="1.4" fill="rgb(10,10,10)"/>
<ellipse cx="391.4" cy="480.5" rx="9" ry="1.3" fill="rgb(92,92,92)" transform="rotate(15 391.4 480.5)"/>
<ellipse cx="393.4" cy="496" rx="9" ry="1.2" fill="rgb(97,97,97)" transform="rotate(15 393.4 496)"/>
<ellipse cx="383.4" cy="488.5" rx="6" ry="1.2" fill="rgb(92,92,92)" transform="rotate(15 383.4 488.5)"/>
<polygon points="369.4,509 421.4,507 497.4,513 497.4,533 369.4,533" fill="rgb(92,92,92)" filter="url(#bl2)"/>
<ellipse cx="391.4" cy="511" rx="9" ry="1.6" fill="rgb(13,13,13)" transform="rotate(18 391.4 511)"/>
<ellipse cx="384.4" cy="517.5" rx="7" ry="1.5" fill="rgb(15,15,15)" transform="rotate(18 384.4 517.5)"/>
<ellipse cx="401.4" cy="519" rx="8" ry="1.4" fill="rgb(26,26,26)" transform="rotate(15 401.4 519)"/>
<ellipse cx="413.4" cy="511" rx="6" ry="1.8" fill="rgb(10,10,10)" transform="rotate(5 413.4 511)"/>
<ellipse cx="412.4" cy="520" rx="5" ry="2" fill="rgb(13,13,13)" transform="rotate(5 412.4 520)"/>
<ellipse cx="405.4" cy="514" rx="10" ry="1.8" fill="rgb(178,178,178)" transform="rotate(20 405.4 514)"/>
<ellipse cx="391.4" cy="522.5" rx="10" ry="1.6" fill="rgb(191,191,191)" transform="rotate(15 391.4 522.5)"/>
<ellipse cx="382.4" cy="508" rx="6" ry="1.5" fill="rgb(178,178,178)" transform="rotate(20 382.4 508)"/>
<polygon points="401.4,455 427.4,455 425.4,497 423.4,533 411.4,533 407.4,497" fill="rgb(76,76,76)" filter="url(#bl2)"/>
<ellipse cx="416.4" cy="467" rx="9" ry="4.5" fill="rgb(23,23,23)" filter="url(#bl1)"/>
<ellipse cx="418.4" cy="479" rx="6" ry="8" fill="rgb(41,41,41)" filter="url(#bl1)"/>
<ellipse cx="418.4" cy="493" rx="4" ry="8" fill="rgb(56,56,56)" filter="url(#bl1)"/>
<ellipse cx="405.4" cy="481" rx="8" ry="14" fill="rgb(107,107,107)" filter="url(#bl2)"/>
<ellipse cx="402.4" cy="501" rx="8" ry="2" fill="rgb(204,204,204)" transform="rotate(8 402.4 501)"/>
<ellipse cx="407.4" cy="490" rx="7" ry="1.6" fill="rgb(199,199,199)" transform="rotate(8 407.4 490)"/>
<ellipse cx="407.4" cy="509" rx="10" ry="1.6" fill="rgb(209,209,209)" transform="rotate(4 407.4 509)"/>
<ellipse cx="417.4" cy="507" rx="8" ry="1.6" fill="rgb(204,204,204)" transform="rotate(2 417.4 507)"/>
<ellipse cx="422.4" cy="519" rx="12" ry="4" fill="rgb(71,71,71)" filter="url(#bl1)"/>
<ellipse cx="452.4" cy="520" rx="16" ry="3.5" fill="rgb(76,76,76)" filter="url(#bl1)"/>
<polygon points="424.4,469 497.4,467 497.4,506 423.4,507" fill="rgb(173,173,173)" filter="url(#bl1)"/>
<line x1="426.4" y1="474.5" x2="495.4" y2="473.5" stroke="rgb(255,255,255)" stroke-width="1.6" stroke-linecap="round"/>
<line x1="426.4" y1="484.5" x2="495.4" y2="483.5" stroke="rgb(255,255,255)" stroke-width="1.6" stroke-linecap="round"/>
<line x1="426.4" y1="494.5" x2="495.4" y2="493.5" stroke="rgb(255,255,255)" stroke-width="1.6" stroke-linecap="round"/>
<line x1="426.4" y1="504.5" x2="495.4" y2="503.5" stroke="rgb(255,255,255)" stroke-width="1.6" stroke-linecap="round"/>
<line x1="424.4" y1="514.8" x2="495.4" y2="515" stroke="rgb(217,217,217)" stroke-width="1.4" stroke-linecap="round"/>
<rect x="423.4" y="457" width="80" height="10" fill="rgb(128,128,128)"/>
</g></g>
<rect x="216.6" y="52.3" width="9.1" height="1.8" fill="#fff"/>
<rect x="454" y="87.9" width="37" height="2" fill="#231f20"/>
<rect x="113.4" y="286.4" width="49.8" height="1.6" fill="#231f20"/>
<rect x="305.8" y="98.5" width="1.3" height="18.3" fill="#231f20"/>
<rect x="48.6" y="363" width="1.3" height="5.5" fill="#231f20"/>
<rect x="213.6" y="361" width="1.3" height="14.8" fill="#231f20"/>
<rect x="376.9" y="362.6" width="1.3" height="5.9" fill="#231f20"/>
<rect x="44.3" y="529" width="1.3" height="25" fill="#231f20"/>
<rect x="211.3" y="529" width="1.3" height="25" fill="#231f20"/>
<rect x="377.5" y="529.6" width="1.3" height="24.4" fill="#231f20"/>
<path d="M74.9,291.2 V438.8 M143.9,291.2 V438.8" fill="none" stroke="#ef7048" stroke-width="1.45" stroke-dasharray="15.7 13.82" stroke-dashoffset="7.85"/>
<path d="M74.3,291.2 H82.6 M99.9,291.2 H118.9 M136.2,291.2 H144.5 M74.3,438.8 H82.8 M100.1,438.8 H119 M136.3,438.8 H144.5" fill="none" stroke="#ef7048" stroke-width="1.45"/>
<path d="M304,290.8 H236.5 V438.4 H303.8" fill="none" stroke="#ef7048" stroke-width="1.45" stroke-dasharray="15.4 13.5" stroke-dashoffset="22.5"/>
<path d="M303.8,290.8 V438.4" fill="none" stroke="#ef7048" stroke-width="1.45" stroke-dasharray="15.2 14.1" stroke-dashoffset="22.3"/>
<path d="M398.05,290.8 V438.4 H469.1" fill="none" stroke="#ef7048" stroke-width="1.45" stroke-dasharray="15.6 13.4"/>
<path d="M469.1,290.8 V438.4" fill="none" stroke="#ef7048" stroke-width="1.45" stroke-dasharray="15.4 13.5"/>
<path d="M411.2,290.8 H425.8 M440.4,290.8 H455" fill="none" stroke="#ef7048" stroke-width="1.45"/>
<path d="M303.5,153.4 L304.5,153.5 L305.5,154.3 L306.5,154.1 L307.5,153.7 L308.5,154.3 L309.5,155.3 L310.5,155.1 L311.5,155.9 L312.5,155.5 L313.5,155.1 L314.5,152.9 L315.5,152.6 L316.5,152.9 L317.5,152.0 L318.5,152.6 L319.5,153.4 L320.5,153.0 L321.5,153.3 L322.5,154.1 L323.5,154.5 L324.5,154.7 L325.5,154.2 L326.5,153.3 L327.5,151.0 L328.5,151.3 L329.5,151.4 L330.5,151.8 L331.5,152.0 L332.5,151.6 L333.5,151.3 L334.5,151.6 L335.5,153.0 L336.5,151.3 L337.5,151.7 L338.5,151.2 L339.5,151.7 L340.5,151.1 L341.5,153.1 L342.5,153.9 L343.5,153.4 L344.5,152.8 L345.5,152.7 L346.5,152.7 L347.5,154.1 L348.5,154.3 L349.5,154.6 L350.5,155.3 L351.5,154.3 L352.5,154.6 L353.5,155.4 L354.5,155.4 L355.5,155.7 L356.5,155.3 L357.5,154.9 L358.5,155.4 L359.5,154.1 L360.5,152.8 L361.5,152.4 L362.5,152.8 L363.5,152.9 L364.5,152.4 L365.5,152.7 L366.5,151.1 L367.5,151.9 L368.5,151.8 L369.5,152.1 L370.5,151.8 L371.5,152.7 L372.5,154.0 L373.5,153.9 L374.5,154.8 L375.5,155.2 L376.5,154.4 L377.5,152.8 L378.5,152.9 L379.5,152.4 L380.5,152.1 L381.5,151.7 L382.5,151.2 L383.5,152.1 L384.5,152.7 L385.5,152.0 L386.5,152.9 L387.5,152.8 L388.5,151.8 L389.5,151.2 L390.5,152.1 L391.5,152.0 L392.5,152.4 L393.5,153.3 L394.5,153.1 L395.5,153.6 L396.5,153.1 L397.5,153.9 L398.5,154.5 L399.5,154.8 L400.5,154.7 L401.5,156.2 L402.5,154.9 L403.5,155.2 L404.5,154.3 L405.5,153.8 L406.5,153.9 L407.5,152.9 L408.5,152.8 L409.5,151.8 L410.5,151.7 L411.5,150.9 L412.5,151.3 L413.5,152.3 L414.5,152.0 L415.5,153.2 L416.5,153.2 L417.5,153.1 L418.5,155.0 L419.5,154.6 L420.5,155.0 L421.5,155.9 L422.5,157.6 L423.5,156.2 L424.5,155.4 L425.5,156.2 L426.5,156.7 L427.5,157.1 L428.5,157.6 L429.5,156.4 L430.5,156.8 L431.5,155.6 L432.5,157.1 L433.5,158.1 L434.5,157.0 L435.5,157.1 L436.5,158.4 L437.5,156.1 L438.5,155.2 L439.5,154.9 L440.5,156.3 L441.5,155.9 L442.5,155.5 L443.5,155.7 L444.5,155.4 L445.5,156.0 L446.5,156.7 L447.5,154.3 L448.5,151.1 L449.5,147.7 L449.0,145.3 L449.7,113.5 L450.5,145.5 L450.5,145.3 L451.5,145.0 L451.0,144.5 L451.8,113.5 L452.5,144.6 L452.5,144.5 L453.5,142.4 L453.2,142.7 L454.0,113.5 L454.7,142.9 L454.5,142.7 L455.5,143.2 L455.4,142.5 L456.2,113.5 L456.9,143.6 L456.5,142.5 L457.5,141.8 L458.5,141.9 L457.9,141.9 L458.7,113.5 L459.4,143.1 L459.5,141.9 L460.5,140.7 L459.8,140.2 L460.5,113.5 L461.3,141.5 L461.5,140.2 L462.5,139.6 L462.0,139.9 L462.8,113.5 L463.5,140.8 L463.5,139.9 L464.5,138.7 L464.4,139.3 L465.1,113.5 L465.9,140.2 L465.5,139.3 L466.5,139.6 L466.5,142.9 L467.2,113.5 L468.0,144.0 L467.5,142.9 L468.5,145.4 L469.5,146.3 L470.5,148.7 L471.5,149.3 L472.5,150.2 L473.5,151.5 L474.5,151.8 L475.5,152.7 L476.5,152.1 L477.5,152.0 L478.5,153.6 L479.5,154.1 L480.5,152.6 L481.5,153.2 L482.5,153.5 L483.5,153.4 L484.5,152.6 L485.5,153.3 L486.5,152.3 L487.5,153.0 L488.5,153.0 L489.5,154.1 L490.5,153.7" fill="none" stroke="#000" stroke-width="1.7" stroke-linejoin="round" stroke-linecap="round"/>
<path d="M303.5,193.9 L304.5,193.3 L305.5,192.7 L306.5,192.9 L307.5,193.8 L308.5,194.3 L309.5,193.9 L310.5,192.9 L311.5,194.0 L312.5,194.7 L313.5,193.8 L314.5,193.5 L315.5,192.1 L316.5,191.3 L317.5,191.4 L318.5,191.8 L319.5,190.2 L320.5,190.7 L321.5,191.4 L322.5,192.9 L323.5,192.6 L324.5,192.6 L325.5,193.1 L326.5,192.7 L327.5,192.2 L328.5,192.3 L329.5,191.2 L330.5,191.7 L331.5,193.0 L332.5,192.6 L333.5,193.7 L334.5,193.2 L335.5,194.9 L336.5,194.4 L337.5,194.8 L338.5,194.5 L339.5,192.1 L340.5,192.2 L341.5,191.7 L342.5,192.3 L343.5,192.8 L344.5,191.9 L345.5,192.5 L346.5,192.4 L347.5,192.1 L348.5,193.2 L349.5,192.7 L350.5,193.6 L351.5,191.7 L352.5,192.2 L353.5,191.7 L354.5,192.4 L355.5,191.6 L356.5,192.0 L357.5,191.4 L358.5,191.6 L359.5,190.8 L360.5,190.4 L361.5,190.5 L362.5,191.2 L363.5,190.9 L364.5,191.2 L365.5,189.9 L366.5,190.4 L367.5,190.2 L368.5,190.1 L369.5,190.3 L370.5,190.2 L371.5,190.5 L372.5,191.2 L373.5,192.0 L374.5,192.3 L375.5,191.9 L376.5,190.8 L377.5,190.7 L378.5,189.4 L379.5,189.5 L380.5,189.3 L381.5,189.5 L382.5,189.4 L383.5,188.6 L384.5,189.1 L385.5,190.0 L386.5,188.6 L387.5,189.0 L388.5,188.8 L389.5,188.3 L390.5,189.5 L391.5,187.9 L392.5,187.0 L393.5,187.4 L394.5,187.9 L395.5,188.2 L396.5,189.2 L397.5,190.0 L398.5,189.6 L399.5,189.4 L400.5,189.2 L401.5,189.0 L402.5,188.3 L403.5,189.5 L404.5,189.6 L405.5,189.2 L406.5,189.3 L407.5,191.5 L408.5,192.1 L409.5,192.0 L410.5,191.6 L411.5,190.6 L412.5,191.3 L413.5,191.6 L414.5,191.2 L415.5,191.8 L416.5,194.1 L417.5,193.6 L418.5,191.1 L419.5,190.2 L420.5,191.5 L421.5,191.8 L422.5,192.4 L423.5,190.2 L424.5,189.7 L425.5,190.3 L426.5,189.3 L427.5,189.3 L428.5,188.4 L429.5,189.5 L430.5,190.2 L431.5,190.0 L432.5,189.1 L433.5,189.1 L434.5,189.0 L435.5,190.8 L436.5,192.1 L437.5,192.4 L438.5,192.9 L439.5,192.0 L440.5,192.7 L441.5,192.3 L442.5,191.9 L443.5,192.7 L444.5,192.4 L445.5,192.2 L446.5,191.5 L447.5,192.0 L448.5,192.1 L449.5,192.1 L450.5,189.7 L451.5,185.9 L452.5,183.8 L452.0,182.9 L452.8,154.5 L453.5,184.3 L453.5,182.9 L454.5,183.1 L454.2,182.8 L454.9,154.5 L455.7,183.0 L455.5,182.8 L456.5,182.4 L456.6,180.1 L457.4,154.5 L458.1,181.3 L457.5,180.1 L458.5,178.7 L459.5,179.1 L459.2,180.6 L459.9,154.5 L460.7,180.7 L460.5,180.6 L461.5,178.5 L461.4,177.5 L462.1,154.5 L462.9,177.8 L462.5,177.5 L463.5,178.3 L464.5,178.1 L464.2,179.4 L465.0,154.5 L465.7,179.7 L465.5,179.4 L466.5,177.5 L466.4,178.2 L467.1,154.5 L467.9,179.2 L467.5,178.2 L468.5,179.7 L469.5,182.4 L470.5,185.9 L471.5,187.5 L472.5,190.8 L473.5,190.9 L474.5,193.6 L475.5,194.8 L476.5,193.9 L477.5,192.6 L478.5,193.8 L479.5,195.5 L480.5,194.1 L481.5,193.4 L482.5,194.4 L483.5,194.8 L484.5,195.2 L485.5,195.9 L486.5,195.5 L487.5,194.5 L488.5,194.0 L489.5,192.4 L490.5,192.7" fill="none" stroke="#000" stroke-width="1.7" stroke-linejoin="round" stroke-linecap="round"/>
<path d="M303.5,234.0 L304.5,234.0 L305.5,234.0 L306.5,234.5 L307.5,233.5 L308.5,233.8 L309.5,233.1 L310.5,232.0 L311.5,232.6 L312.5,233.7 L313.5,234.2 L314.5,234.5 L315.5,234.1 L316.5,233.6 L317.5,232.7 L318.5,230.7 L319.5,229.9 L320.5,229.9 L321.5,229.0 L322.5,228.6 L323.5,229.5 L324.5,229.0 L325.5,229.9 L326.5,230.0 L327.5,228.7 L328.5,228.3 L329.5,229.3 L330.5,229.5 L331.5,227.9 L332.5,228.8 L333.5,228.5 L334.5,228.6 L335.5,228.5 L336.5,228.7 L337.5,229.2 L338.5,230.0 L339.5,230.4 L340.5,230.7 L341.5,230.6 L342.5,229.3 L343.5,230.0 L344.5,230.5 L345.5,231.3 L346.5,231.8 L347.5,232.4 L348.5,232.3 L349.5,232.6 L350.5,234.3 L351.5,233.3 L352.5,233.2 L353.5,233.7 L354.5,233.0 L355.5,233.4 L356.5,234.7 L357.5,233.8 L358.5,233.7 L359.5,234.1 L360.5,233.1 L361.5,233.0 L362.5,233.9 L363.5,232.5 L364.5,232.0 L365.5,233.4 L366.5,232.8 L367.5,232.8 L368.5,231.5 L369.5,232.7 L370.5,232.3 L371.5,231.3 L372.5,231.0 L373.5,230.9 L374.5,229.5 L375.5,229.6 L376.5,230.1 L377.5,230.8 L378.5,230.0 L379.5,229.6 L380.5,229.5 L381.5,229.9 L382.5,229.7 L383.5,231.7 L384.5,231.7 L385.5,233.7 L386.5,233.5 L387.5,232.6 L388.5,230.7 L389.5,231.8 L390.5,231.5 L391.5,231.2 L392.5,233.3 L393.5,232.4 L394.5,232.6 L395.5,232.7 L396.5,233.1 L397.5,233.2 L398.5,233.0 L399.5,232.0 L400.5,231.8 L401.5,229.0 L402.5,230.0 L403.5,230.3 L404.5,230.5 L405.5,231.7 L406.5,230.3 L407.5,230.3 L408.5,231.1 L409.5,231.7 L410.5,230.5 L411.5,231.7 L412.5,232.0 L413.5,231.9 L414.5,230.1 L415.5,230.3 L416.5,230.7 L417.5,231.5 L418.5,230.1 L419.5,230.8 L420.5,229.1 L421.5,230.8 L422.5,231.0 L423.5,231.6 L424.5,232.3 L425.5,231.9 L426.5,231.4 L427.5,232.7 L428.5,233.4 L429.5,232.4 L430.5,231.2 L431.5,232.0 L432.5,232.3 L433.5,233.7 L434.5,233.0 L435.5,234.0 L436.5,234.0 L437.5,232.2 L438.5,233.4 L439.5,233.3 L440.5,234.2 L441.5,235.0 L442.5,235.7 L443.5,235.9 L444.5,236.2 L445.5,236.4 L446.5,234.8 L447.5,233.8 L448.5,233.8 L449.5,229.3 L449.7,226.7 L450.4,195.3 L451.2,227.0 L450.5,226.7 L451.5,224.2 L452.5,224.5 L452.2,222.5 L453.0,195.3 L453.7,223.0 L453.5,222.5 L454.5,223.7 L454.3,224.8 L455.1,195.3 L455.8,225.3 L455.5,224.8 L456.5,223.9 L457.5,223.5 L457.0,222.6 L457.8,195.3 L458.5,223.2 L458.5,222.6 L459.5,222.3 L459.5,219.8 L460.3,195.3 L461.0,221.2 L460.5,219.8 L461.5,218.2 L461.6,218.3 L462.3,195.3 L463.1,218.7 L462.5,218.3 L463.5,218.7 L464.5,218.8 L464.3,218.3 L465.1,195.3 L465.8,218.8 L465.5,218.3 L466.5,218.7 L466.5,220.0 L467.2,195.3 L468.0,221.0 L467.5,220.0 L468.5,222.9 L469.5,224.8 L470.5,225.9 L471.5,228.4 L472.5,228.4 L473.5,229.6 L474.5,230.5 L475.5,231.8 L476.5,231.1 L477.5,231.1 L478.5,232.6 L479.5,231.8 L480.5,232.4 L481.5,231.5 L482.5,231.6 L483.5,232.2 L484.5,232.4 L485.5,232.8 L486.5,233.3 L487.5,233.0 L488.5,232.5 L489.5,232.5 L490.5,232.7" fill="none" stroke="#000" stroke-width="1.7" stroke-linejoin="round" stroke-linecap="round"/>
<path d="M49.7,384.7 L50.7,384.6 L51.7,384.0 L52.7,384.0 L53.7,384.0 L54.7,384.0 L55.7,384.5 L56.7,384.1 L57.7,384.1 L58.7,383.8 L59.7,383.6 L60.7,383.6 L61.7,383.7 L62.7,383.8 L63.7,383.9 L64.7,383.6 L65.7,383.9 L66.7,384.1 L67.7,383.8 L68.7,384.1 L69.7,384.2 L70.7,384.1 L71.7,383.9 L72.7,383.8 L73.7,383.9 L74.7,384.4 L75.7,384.3 L76.7,384.6 L77.7,384.6 L78.7,384.9 L79.7,384.8 L80.7,384.4 L81.7,384.3 L82.7,383.6 L83.7,383.2 L84.7,383.4 L85.7,383.3 L86.7,383.0 L87.7,383.3 L88.7,383.2 L89.7,383.6 L90.7,383.8 L91.7,384.1 L92.7,383.9 L93.7,384.2 L94.7,383.7 L95.7,384.3 L96.7,384.4 L97.7,383.9 L98.7,384.2 L99.7,383.8 L100.7,383.8 L101.7,383.7 L102.7,383.8 L103.7,384.1 L104.7,384.5 L105.7,384.5 L106.7,384.2 L107.7,384.3 L108.7,384.6 L109.7,384.5 L110.7,385.0 L111.7,384.8 L112.7,385.0 L113.7,385.0 L114.7,384.7 L115.7,384.7 L116.7,384.5 L117.7,384.2 L118.7,384.3 L119.7,384.4 L120.7,384.2 L121.7,383.8 L122.7,383.8 L123.7,383.5 L124.7,383.4 L125.7,383.1 L126.7,383.0 L127.7,382.7 L128.7,382.1 L129.7,381.1 L130.7,380.6 L131.7,381.3 L132.7,381.7 L133.7,382.5 L134.7,383.3 L135.7,383.7 L136.7,384.3 L137.7,384.2 L138.7,383.7 L139.7,384.0 L140.7,384.2 L141.7,384.0 L142.7,384.3 L143.7,384.0 L144.7,383.8 L145.7,384.3 L146.7,384.4 L147.7,384.4 L148.7,384.2 L149.7,383.9 L150.7,383.4 L151.7,383.4 L152.7,382.9 L153.7,382.7 L154.7,383.0 L155.7,382.9 L156.7,382.8 L157.7,383.2 L158.7,383.4 L159.7,384.2 L160.7,383.9 L161.7,384.4" fill="none" stroke="#231f20" stroke-width="1.65" stroke-linejoin="round" stroke-linecap="round"/>
<path d="M49.7,393.2 L50.7,393.4 L51.7,393.7 L52.7,393.3 L53.7,393.1 L54.7,393.4 L55.7,393.1 L56.7,392.7 L57.7,392.8 L58.7,392.4 L59.7,392.9 L60.7,392.9 L61.7,393.2 L62.7,393.4 L63.7,393.9 L64.7,393.4 L65.7,393.0 L66.7,393.3 L67.7,393.0 L68.7,393.4 L69.7,393.5 L70.7,393.2 L71.7,393.5 L72.7,393.2 L73.7,393.2 L74.7,393.0 L75.7,393.4 L76.7,393.3 L77.7,392.9 L78.7,393.2 L79.7,393.5 L80.7,393.0 L81.7,392.4 L82.7,393.3 L83.7,392.6 L84.7,392.5 L85.7,392.0 L86.7,392.2 L87.7,392.3 L88.7,391.6 L89.7,392.0 L90.7,392.3 L91.7,392.4 L92.7,392.9 L93.7,393.0 L94.7,392.8 L95.7,393.4 L96.7,392.9 L97.7,393.5 L98.7,393.7 L99.7,393.2 L100.7,393.2 L101.7,392.9 L102.7,392.7 L103.7,393.1 L104.7,393.0 L105.7,393.3 L106.7,393.6 L107.7,393.5 L108.7,393.4 L109.7,393.5 L110.7,393.0 L111.7,393.2 L112.7,393.2 L113.7,393.4 L114.7,393.0 L115.7,393.2 L116.7,392.9 L117.7,392.7 L118.7,392.8 L119.7,392.8 L120.7,392.3 L121.7,392.5 L122.7,392.2 L123.7,392.1 L124.7,392.2 L125.7,391.5 L126.7,390.9 L127.7,390.5 L128.7,389.3 L129.7,389.1 L130.7,388.6 L131.7,388.9 L132.7,390.2 L133.7,391.4 L134.7,392.2 L135.7,393.0 L136.7,392.9 L137.7,393.3 L138.7,393.3 L139.7,393.6 L140.7,393.4 L141.7,393.5 L142.7,393.5 L143.7,393.4 L144.7,393.6 L145.7,393.5 L146.7,394.0 L147.7,393.6 L148.7,394.2 L149.7,394.0 L150.7,393.2 L151.7,393.7 L152.7,393.3 L153.7,393.0 L154.7,392.8 L155.7,392.6 L156.7,392.3 L157.7,392.6 L158.7,392.6 L159.7,392.9 L160.7,393.1 L161.7,392.9" fill="none" stroke="#231f20" stroke-width="1.65" stroke-linejoin="round" stroke-linecap="round"/>
<path d="M49.7,402.3 L50.7,402.6 L51.7,402.7 L52.7,402.7 L53.7,402.4 L54.7,402.6 L55.7,402.6 L56.7,402.0 L57.7,402.3 L58.7,402.7 L59.7,402.1 L60.7,402.3 L61.7,402.5 L62.7,402.4 L63.7,402.4 L64.7,402.6 L65.7,402.1 L66.7,402.6 L67.7,402.1 L68.7,402.4 L69.7,402.3 L70.7,402.0 L71.7,402.1 L72.7,402.3 L73.7,402.3 L74.7,402.5 L75.7,402.8 L76.7,402.4 L77.7,402.3 L78.7,402.2 L79.7,402.6 L80.7,402.2 L81.7,402.4 L82.7,402.2 L83.7,401.8 L84.7,401.4 L85.7,401.4 L86.7,401.2 L87.7,401.5 L88.7,401.6 L89.7,401.6 L90.7,401.6 L91.7,401.4 L92.7,401.7 L93.7,402.5 L94.7,402.1 L95.7,402.3 L96.7,402.6 L97.7,403.0 L98.7,402.9 L99.7,403.2 L100.7,403.1 L101.7,403.0 L102.7,402.9 L103.7,403.2 L104.7,402.7 L105.7,403.3 L106.7,402.8 L107.7,402.6 L108.7,402.8 L109.7,402.4 L110.7,402.0 L111.7,402.5 L112.7,403.0 L113.7,403.3 L114.7,403.1 L115.7,402.6 L116.7,402.9 L117.7,403.3 L118.7,402.6 L119.7,403.0 L120.7,402.1 L121.7,401.9 L122.7,401.7 L123.7,401.4 L124.7,401.4 L125.7,401.2 L126.7,401.6 L127.7,401.0 L128.7,400.2 L129.7,399.3 L130.7,399.1 L131.7,399.0 L132.7,400.0 L133.7,401.2 L134.7,402.0 L135.7,402.6 L136.7,402.9 L137.7,402.7 L138.7,402.9 L139.7,402.7 L140.7,402.6 L141.7,403.0 L142.7,402.9 L143.7,402.6 L144.7,402.8 L145.7,402.7 L146.7,403.3 L147.7,403.2 L148.7,402.5 L149.7,402.6 L150.7,402.7 L151.7,402.2 L152.7,402.1 L153.7,401.9 L154.7,401.9 L155.7,401.8 L156.7,401.9 L157.7,401.8 L158.7,402.3 L159.7,402.4 L160.7,402.7 L161.7,402.5" fill="none" stroke="#231f20" stroke-width="1.65" stroke-linejoin="round" stroke-linecap="round"/>
<path d="M49.7,412.2 L50.7,412.2 L51.7,412.3 L52.7,412.1 L53.7,412.3 L54.7,412.8 L55.7,412.8 L56.7,412.8 L57.7,412.7 L58.7,412.7 L59.7,412.8 L60.7,413.1 L61.7,413.0 L62.7,413.3 L63.7,412.6 L64.7,412.3 L65.7,412.8 L66.7,412.4 L67.7,412.3 L68.7,412.4 L69.7,412.5 L70.7,412.7 L71.7,412.5 L72.7,412.6 L73.7,412.4 L74.7,412.2 L75.7,412.6 L76.7,412.4 L77.7,411.6 L78.7,412.0 L79.7,411.7 L80.7,411.7 L81.7,411.4 L82.7,412.0 L83.7,411.6 L84.7,411.3 L85.7,411.2 L86.7,411.2 L87.7,410.8 L88.7,410.5 L89.7,410.7 L90.7,410.1 L91.7,410.2 L92.7,410.3 L93.7,410.1 L94.7,410.3 L95.7,410.5 L96.7,410.9 L97.7,411.2 L98.7,411.3 L99.7,411.1 L100.7,411.0 L101.7,411.3 L102.7,411.3 L103.7,411.3 L104.7,411.4 L105.7,411.5 L106.7,411.5 L107.7,411.9 L108.7,411.7 L109.7,412.4 L110.7,412.3 L111.7,412.1 L112.7,411.9 L113.7,412.2 L114.7,412.1 L115.7,411.9 L116.7,412.1 L117.7,411.9 L118.7,411.9 L119.7,411.7 L120.7,411.8 L121.7,411.7 L122.7,410.6 L123.7,410.3 L124.7,410.4 L125.7,410.8 L126.7,410.3 L127.7,409.7 L128.7,409.1 L129.7,408.5 L130.7,408.6 L131.7,408.9 L132.7,409.8 L133.7,410.7 L134.7,411.4 L135.7,411.6 L136.7,412.3 L137.7,412.6 L138.7,412.0 L139.7,412.6 L140.7,412.2 L141.7,412.5 L142.7,412.3 L143.7,411.9 L144.7,411.8 L145.7,412.1 L146.7,412.3 L147.7,412.1 L148.7,412.2 L149.7,412.0 L150.7,412.1 L151.7,412.1 L152.7,411.6 L153.7,411.1 L154.7,411.2 L155.7,411.1 L156.7,411.3 L157.7,412.1 L158.7,412.2 L159.7,412.6 L160.7,412.6 L161.7,412.5" fill="none" stroke="#231f20" stroke-width="1.65" stroke-linejoin="round" stroke-linecap="round"/>
<path d="M49.7,421.7 L50.7,421.5 L51.7,421.4 L52.7,421.8 L53.7,421.7 L54.7,421.8 L55.7,421.4 L56.7,421.8 L57.7,421.5 L58.7,421.3 L59.7,421.6 L60.7,421.8 L61.7,421.3 L62.7,421.2 L63.7,421.5 L64.7,421.6 L65.7,421.3 L66.7,421.5 L67.7,421.5 L68.7,421.2 L69.7,420.9 L70.7,421.3 L71.7,421.1 L72.7,421.5 L73.7,421.2 L74.7,421.2 L75.7,421.6 L76.7,421.4 L77.7,421.8 L78.7,421.2 L79.7,421.7 L80.7,422.0 L81.7,421.8 L82.7,421.8 L83.7,421.5 L84.7,422.0 L85.7,421.5 L86.7,421.9 L87.7,421.7 L88.7,421.4 L89.7,421.4 L90.7,420.7 L91.7,420.5 L92.7,420.5 L93.7,420.4 L94.7,420.7 L95.7,420.4 L96.7,421.0 L97.7,420.7 L98.7,421.3 L99.7,421.7 L100.7,421.6 L101.7,421.8 L102.7,421.7 L103.7,421.8 L104.7,421.6 L105.7,421.5 L106.7,421.8 L107.7,421.0 L108.7,421.1 L109.7,421.1 L110.7,421.3 L111.7,421.0 L112.7,421.0 L113.7,421.3 L114.7,421.5 L115.7,421.3 L116.7,421.9 L117.7,422.0 L118.7,421.9 L119.7,421.5 L120.7,421.1 L121.7,421.1 L122.7,420.4 L123.7,420.1 L124.7,420.2 L125.7,420.1 L126.7,419.8 L127.7,419.3 L128.7,418.2 L129.7,417.9 L130.7,417.9 L131.7,418.1 L132.7,419.1 L133.7,420.2 L134.7,420.3 L135.7,420.5 L136.7,420.8 L137.7,421.0 L138.7,421.4 L139.7,421.2 L140.7,421.1 L141.7,421.2 L142.7,421.5 L143.7,420.9 L144.7,421.0 L145.7,421.4 L146.7,421.1 L147.7,420.9 L148.7,421.2 L149.7,421.1 L150.7,421.2 L151.7,421.1 L152.7,420.8 L153.7,420.5 L154.7,420.5 L155.7,420.6 L156.7,420.9 L157.7,421.1 L158.7,421.4 L159.7,421.6 L160.7,421.7 L161.7,422.0" fill="none" stroke="#231f20" stroke-width="1.65" stroke-linejoin="round" stroke-linecap="round"/>
<path d="M49.7,431.0 L50.7,431.1 L51.7,430.9 L52.7,431.5 L53.7,431.3 L54.7,430.9 L55.7,430.8 L56.7,431.4 L57.7,431.0 L58.7,431.4 L59.7,431.5 L60.7,431.1 L61.7,431.2 L62.7,431.4 L63.7,431.5 L64.7,431.2 L65.7,431.3 L66.7,431.2 L67.7,431.1 L68.7,431.1 L69.7,431.1 L70.7,430.7 L71.7,430.6 L72.7,430.7 L73.7,430.8 L74.7,430.6 L75.7,430.6 L76.7,430.4 L77.7,430.7 L78.7,430.7 L79.7,430.9 L80.7,430.5 L81.7,430.5 L82.7,430.5 L83.7,430.4 L84.7,430.6 L85.7,431.4 L86.7,431.0 L87.7,431.0 L88.7,430.8 L89.7,430.8 L90.7,430.8 L91.7,430.8 L92.7,430.9 L93.7,430.1 L94.7,430.2 L95.7,430.2 L96.7,430.3 L97.7,430.1 L98.7,430.2 L99.7,430.3 L100.7,430.6 L101.7,430.6 L102.7,431.2 L103.7,431.3 L104.7,431.3 L105.7,431.2 L106.7,431.3 L107.7,431.3 L108.7,430.9 L109.7,430.6 L110.7,430.3 L111.7,430.5 L112.7,430.4 L113.7,430.1 L114.7,430.3 L115.7,430.1 L116.7,430.3 L117.7,430.2 L118.7,430.0 L119.7,429.9 L120.7,429.9 L121.7,429.9 L122.7,429.6 L123.7,429.2 L124.7,429.0 L125.7,429.0 L126.7,428.7 L127.7,428.6 L128.7,428.2 L129.7,427.9 L130.7,427.5 L131.7,427.8 L132.7,428.4 L133.7,429.3 L134.7,430.0 L135.7,430.7 L136.7,430.8 L137.7,431.2 L138.7,431.3 L139.7,431.0 L140.7,431.0 L141.7,430.8 L142.7,431.1 L143.7,430.8 L144.7,430.6 L145.7,430.6 L146.7,430.9 L147.7,431.0 L148.7,430.7 L149.7,430.9 L150.7,430.6 L151.7,430.2 L152.7,430.1 L153.7,430.0 L154.7,429.3 L155.7,429.6 L156.7,429.6 L157.7,429.8 L158.7,430.5 L159.7,430.0 L160.7,430.4 L161.7,431.2" fill="none" stroke="#231f20" stroke-width="1.65" stroke-linejoin="round" stroke-linecap="round"/>
<path d="M214.0,412.6 L215.0,412.2 L216.0,411.7 L217.0,411.5 L218.0,411.1 L219.0,411.4 L220.0,411.3 L221.0,411.7 L222.0,411.1 L223.0,411.5 L224.0,410.9 L225.0,410.8 L226.0,410.7 L227.0,410.5 L228.0,410.7 L229.0,411.3 L230.0,411.6 L231.0,411.2 L232.0,411.7 L233.0,411.8 L234.0,411.7 L235.0,412.1 L236.0,412.7 L237.0,412.5 L238.0,412.1 L239.0,412.1 L240.0,411.4 L241.0,411.9 L242.0,412.2 L243.0,411.2 L244.0,411.5 L245.0,411.8 L246.0,411.0 L247.0,411.3 L248.0,410.9 L249.0,411.7 L250.0,411.3 L251.0,411.1 L252.0,411.1 L253.0,410.9 L254.0,410.7 L255.0,410.8 L256.0,410.8 L257.0,412.0 L258.0,411.3 L259.0,411.5 L260.0,410.5 L261.0,410.5 L262.0,410.8 L263.0,410.9 L264.0,410.3 L265.0,410.6 L266.0,411.3 L267.0,410.8 L268.0,411.3 L269.0,410.8 L270.0,411.6 L271.0,411.6 L272.0,411.5 L273.0,411.8 L274.0,411.5 L275.0,411.1 L276.0,411.0 L277.0,411.6 L278.0,410.4 L279.0,409.8 L280.0,408.7 L281.0,407.1 L282.0,406.5 L283.0,404.5 L284.0,402.3 L285.0,401.2 L286.0,400.3 L287.0,400.2 L288.0,399.5 L289.0,398.9 L290.0,401.7 L291.0,405.3 L292.0,409.1 L293.0,410.3 L294.0,411.2 L295.0,411.0 L296.0,411.3 L297.0,411.4 L298.0,411.8 L299.0,411.8 L300.0,411.9 L301.0,412.0 L302.0,412.0 L303.0,411.3 L304.0,411.3 L305.0,412.6 L306.0,412.1 L307.0,411.8 L308.0,411.5 L309.0,412.0 L310.0,411.7 L311.0,411.9 L312.0,412.7 L313.0,412.1 L314.0,412.6 L315.0,412.0 L316.0,411.6 L317.0,411.4 L318.0,411.8 L319.0,411.7 L320.0,412.0 L321.0,412.3 L322.0,411.9 L323.0,411.9 L324.0,411.5 L325.0,411.6 L326.0,411.8" fill="none" stroke="#231f20" stroke-width="1.5" stroke-linejoin="round" stroke-linecap="round"/>
<path d="M286.6,400.2 V377.0 M288.9,398.9 V377.0" fill="none" stroke="#231f20" stroke-width="1.15" stroke-linejoin="round" stroke-linecap="round"/>
<path d="M214.0,433.0 L215.0,432.5 L216.0,432.2 L217.0,431.7 L218.0,432.4 L219.0,432.8 L220.0,433.1 L221.0,433.2 L222.0,432.9 L223.0,433.9 L224.0,433.5 L225.0,433.7 L226.0,433.3 L227.0,433.5 L228.0,433.0 L229.0,433.3 L230.0,433.0 L231.0,433.5 L232.0,433.8 L233.0,433.5 L234.0,432.8 L235.0,432.9 L236.0,432.0 L237.0,432.0 L238.0,432.0 L239.0,432.6 L240.0,432.4 L241.0,433.3 L242.0,433.1 L243.0,432.3 L244.0,431.9 L245.0,431.7 L246.0,432.5 L247.0,433.5 L248.0,433.0 L249.0,433.2 L250.0,433.1 L251.0,433.8 L252.0,433.2 L253.0,432.3 L254.0,432.0 L255.0,433.0 L256.0,432.4 L257.0,432.2 L258.0,433.0 L259.0,432.3 L260.0,433.0 L261.0,433.1 L262.0,433.0 L263.0,432.8 L264.0,433.7 L265.0,433.0 L266.0,433.6 L267.0,433.0 L268.0,433.6 L269.0,434.2 L270.0,433.9 L271.0,433.9 L272.0,433.7 L273.0,433.4 L274.0,432.3 L275.0,432.4 L276.0,432.2 L277.0,432.4 L278.0,432.3 L279.0,432.0 L280.0,431.5 L281.0,431.1 L282.0,431.9 L283.0,432.7 L284.0,433.1 L285.0,432.6 L286.0,431.9 L287.0,431.8 L288.0,429.4 L289.0,426.3 L290.0,423.4 L291.0,420.4 L292.0,417.8 L293.0,416.7 L294.0,416.1 L295.0,416.6 L296.0,419.2 L297.0,423.4 L298.0,427.8 L299.0,430.3 L300.0,432.5 L301.0,432.9 L302.0,434.6 L303.0,434.4 L304.0,434.2 L305.0,434.4 L306.0,433.8 L307.0,433.2 L308.0,432.5 L309.0,432.7 L310.0,432.6 L311.0,432.9 L312.0,432.7 L313.0,432.8 L314.0,432.0 L315.0,432.4 L316.0,432.0 L317.0,432.2 L318.0,430.9 L319.0,430.8 L320.0,431.5 L321.0,432.4 L322.0,432.4 L323.0,432.8 L324.0,432.2 L325.0,432.6 L326.0,432.3" fill="none" stroke="#231f20" stroke-width="1.5" stroke-linejoin="round" stroke-linecap="round"/>
<path d="M292.8,416.7 V398.0 M295.0,416.6 V398.0" fill="none" stroke="#231f20" stroke-width="1.15" stroke-linejoin="round" stroke-linecap="round"/>
<path d="M377.4,381.9 L378.4,381.9 L379.4,381.7 L380.4,381.9 L381.4,382.3 L382.4,382.4 L383.4,382.3 L384.4,382.1 L385.4,382.1 L386.4,381.9 L387.4,381.9 L388.4,381.7 L389.4,381.7 L390.4,381.4 L391.4,381.4 L392.4,381.3 L393.4,381.4 L394.4,381.3 L395.4,381.5 L396.4,381.6 L397.4,381.1 L398.4,381.5 L399.4,381.6 L400.4,382.1 L401.4,381.8 L402.4,382.3 L403.4,382.2 L404.4,381.8 L405.4,382.1 L406.4,381.3 L407.4,380.8 L408.4,380.0 L409.4,379.1 L410.4,379.1 L411.4,379.8 L412.4,380.6 L413.4,380.9 L414.4,381.1 L415.4,381.3 L416.4,382.0 L417.4,382.0 L418.4,382.0 L419.4,382.2 L420.4,382.3 L421.4,382.6 L422.4,382.4 L423.4,382.8 L424.4,382.8 L425.4,382.9 L426.4,383.1 L427.4,382.5 L428.4,382.5 L429.4,382.4 L430.4,382.6 L431.4,382.3 L432.4,382.4 L433.4,381.9 L434.4,381.8 L435.4,382.4 L436.4,381.9 L437.4,381.9 L438.4,382.0 L439.4,381.9 L440.4,382.1 L441.4,382.1 L442.4,381.8 L443.4,381.6 L444.4,381.5 L445.4,381.7 L446.4,381.8 L447.4,381.5 L448.4,381.6 L449.4,381.4 L450.4,381.5 L451.4,381.8 L452.4,381.1 L453.4,381.3 L454.4,381.7 L455.4,381.9 L456.4,381.7 L457.4,381.7 L458.4,381.7 L459.4,382.1 L460.4,381.8 L461.4,381.6 L462.4,381.8 L463.4,381.5 L464.4,381.3 L465.4,381.6 L466.4,380.9 L467.4,381.4 L468.4,381.5 L469.4,381.3 L470.4,381.4 L471.4,381.8 L472.4,382.0 L473.4,381.9 L474.4,382.2 L475.4,381.7 L476.4,382.0 L477.4,381.6 L478.4,381.5 L479.4,381.7 L480.4,382.1 L481.4,381.9 L482.4,382.0 L483.4,381.8 L484.4,381.6 L485.4,381.3 L486.4,381.5 L487.4,381.1 L488.4,381.3 L489.4,381.8 L490.4,381.7" fill="none" stroke="#231f20" stroke-width="1.6" stroke-linejoin="round" stroke-linecap="round"/>
<path d="M377.4,389.2 L378.4,389.5 L379.4,389.1 L380.4,389.1 L381.4,388.8 L382.4,388.8 L383.4,388.7 L384.4,388.8 L385.4,388.5 L386.4,389.0 L387.4,389.0 L388.4,389.4 L389.4,389.5 L390.4,389.5 L391.4,389.4 L392.4,389.3 L393.4,389.0 L394.4,389.2 L395.4,389.1 L396.4,388.9 L397.4,389.5 L398.4,389.4 L399.4,389.5 L400.4,389.0 L401.4,389.7 L402.4,389.2 L403.4,389.1 L404.4,389.2 L405.4,388.7 L406.4,388.5 L407.4,388.5 L408.4,387.6 L409.4,387.0 L410.4,387.1 L411.4,387.3 L412.4,387.7 L413.4,388.3 L414.4,388.6 L415.4,388.7 L416.4,389.3 L417.4,389.1 L418.4,389.2 L419.4,389.0 L420.4,389.1 L421.4,389.6 L422.4,389.2 L423.4,389.1 L424.4,389.1 L425.4,389.3 L426.4,389.6 L427.4,389.1 L428.4,389.1 L429.4,389.4 L430.4,389.4 L431.4,389.2 L432.4,389.6 L433.4,389.5 L434.4,389.2 L435.4,389.1 L436.4,389.7 L437.4,389.6 L438.4,389.6 L439.4,389.6 L440.4,389.8 L441.4,389.8 L442.4,389.7 L443.4,389.6 L444.4,389.9 L445.4,390.1 L446.4,389.7 L447.4,389.3 L448.4,389.6 L449.4,389.8 L450.4,389.6 L451.4,389.6 L452.4,389.7 L453.4,389.8 L454.4,389.8 L455.4,389.8 L456.4,389.2 L457.4,389.2 L458.4,389.2 L459.4,389.4 L460.4,389.4 L461.4,389.0 L462.4,389.3 L463.4,389.1 L464.4,389.2 L465.4,389.4 L466.4,388.9 L467.4,388.8 L468.4,389.0 L469.4,388.8 L470.4,389.3 L471.4,389.8 L472.4,389.9 L473.4,389.7 L474.4,389.8 L475.4,389.7 L476.4,389.8 L477.4,390.0 L478.4,389.8 L479.4,389.7 L480.4,389.8 L481.4,390.1 L482.4,390.1 L483.4,389.8 L484.4,390.3 L485.4,389.9 L486.4,389.8 L487.4,390.0 L488.4,389.5 L489.4,389.4 L490.4,389.4" fill="none" stroke="#231f20" stroke-width="1.6" stroke-linejoin="round" stroke-linecap="round"/>
<path d="M377.4,398.5 L378.4,398.3 L379.4,398.5 L380.4,398.3 L381.4,398.2 L382.4,398.4 L383.4,398.1 L384.4,398.3 L385.4,398.2 L386.4,398.2 L387.4,398.1 L388.4,398.0 L389.4,398.3 L390.4,398.2 L391.4,397.9 L392.4,398.4 L393.4,398.4 L394.4,398.3 L395.4,398.4 L396.4,398.0 L397.4,398.4 L398.4,398.4 L399.4,398.1 L400.4,398.6 L401.4,398.1 L402.4,398.2 L403.4,398.5 L404.4,398.7 L405.4,398.3 L406.4,398.3 L407.4,397.4 L408.4,396.2 L409.4,396.1 L410.4,395.9 L411.4,396.3 L412.4,396.6 L413.4,397.4 L414.4,398.1 L415.4,398.1 L416.4,398.3 L417.4,398.9 L418.4,398.6 L419.4,398.8 L420.4,398.9 L421.4,399.1 L422.4,398.9 L423.4,398.6 L424.4,398.6 L425.4,398.5 L426.4,398.6 L427.4,398.4 L428.4,398.2 L429.4,398.6 L430.4,398.5 L431.4,398.3 L432.4,398.7 L433.4,398.5 L434.4,398.0 L435.4,398.1 L436.4,398.3 L437.4,398.4 L438.4,398.6 L439.4,398.4 L440.4,398.4 L441.4,398.3 L442.4,398.9 L443.4,398.5 L444.4,399.1 L445.4,399.5 L446.4,399.0 L447.4,398.9 L448.4,398.7 L449.4,398.7 L450.4,398.4 L451.4,398.2 L452.4,398.5 L453.4,398.0 L454.4,398.2 L455.4,398.1 L456.4,398.3 L457.4,398.5 L458.4,398.4 L459.4,398.8 L460.4,399.0 L461.4,398.4 L462.4,398.5 L463.4,398.2 L464.4,398.4 L465.4,397.9 L466.4,397.7 L467.4,398.0 L468.4,398.2 L469.4,398.3 L470.4,398.5 L471.4,398.4 L472.4,398.6 L473.4,398.3 L474.4,398.0 L475.4,398.0 L476.4,397.9 L477.4,398.0 L478.4,398.2 L479.4,397.9 L480.4,397.9 L481.4,398.0 L482.4,397.9 L483.4,397.9 L484.4,397.7 L485.4,398.1 L486.4,398.2 L487.4,397.8 L488.4,398.1 L489.4,398.0 L490.4,397.9" fill="none" stroke="#231f20" stroke-width="1.6" stroke-linejoin="round" stroke-linecap="round"/>
<path d="M377.4,407.8 L378.4,408.2 L379.4,408.2 L380.4,408.0 L381.4,407.7 L382.4,407.8 L383.4,407.7 L384.4,407.9 L385.4,407.9 L386.4,408.0 L387.4,407.5 L388.4,407.3 L389.4,407.5 L390.4,407.4 L391.4,407.6 L392.4,407.5 L393.4,407.3 L394.4,407.4 L395.4,407.3 L396.4,407.2 L397.4,407.4 L398.4,407.6 L399.4,407.6 L400.4,407.5 L401.4,407.5 L402.4,407.2 L403.4,407.7 L404.4,407.4 L405.4,407.5 L406.4,407.2 L407.4,406.9 L408.4,405.8 L409.4,404.9 L410.4,405.0 L411.4,405.9 L412.4,406.5 L413.4,407.0 L414.4,407.1 L415.4,406.9 L416.4,407.4 L417.4,407.2 L418.4,407.3 L419.4,407.5 L420.4,407.9 L421.4,407.5 L422.4,407.4 L423.4,407.7 L424.4,407.7 L425.4,407.5 L426.4,407.3 L427.4,407.3 L428.4,406.7 L429.4,406.8 L430.4,406.9 L431.4,406.9 L432.4,407.2 L433.4,407.3 L434.4,407.5 L435.4,407.2 L436.4,407.6 L437.4,407.3 L438.4,407.3 L439.4,407.2 L440.4,407.4 L441.4,407.4 L442.4,407.7 L443.4,407.5 L444.4,407.1 L445.4,407.0 L446.4,407.2 L447.4,407.3 L448.4,406.8 L449.4,407.0 L450.4,406.7 L451.4,406.7 L452.4,407.1 L453.4,407.0 L454.4,406.9 L455.4,406.8 L456.4,406.9 L457.4,406.9 L458.4,406.6 L459.4,406.5 L460.4,406.8 L461.4,406.5 L462.4,406.6 L463.4,406.4 L464.4,406.5 L465.4,406.3 L466.4,406.5 L467.4,406.4 L468.4,406.3 L469.4,406.5 L470.4,406.8 L471.4,407.3 L472.4,407.8 L473.4,407.7 L474.4,407.4 L475.4,407.8 L476.4,407.8 L477.4,407.6 L478.4,408.0 L479.4,407.5 L480.4,407.8 L481.4,407.7 L482.4,408.1 L483.4,407.4 L484.4,407.9 L485.4,407.9 L486.4,408.1 L487.4,408.2 L488.4,408.1 L489.4,408.3 L490.4,408.2" fill="none" stroke="#231f20" stroke-width="1.6" stroke-linejoin="round" stroke-linecap="round"/>
<path d="M377.4,416.4 L378.4,416.4 L379.4,416.8 L380.4,416.6 L381.4,416.4 L382.4,416.7 L383.4,416.8 L384.4,416.7 L385.4,416.7 L386.4,416.6 L387.4,416.5 L388.4,416.7 L389.4,415.8 L390.4,416.2 L391.4,416.5 L392.4,416.4 L393.4,416.7 L394.4,416.5 L395.4,416.3 L396.4,416.7 L397.4,416.2 L398.4,415.8 L399.4,416.0 L400.4,416.0 L401.4,415.8 L402.4,416.2 L403.4,416.2 L404.4,416.3 L405.4,416.1 L406.4,415.9 L407.4,414.9 L408.4,413.5 L409.4,413.7 L410.4,413.4 L411.4,414.2 L412.4,414.4 L413.4,414.8 L414.4,415.2 L415.4,415.8 L416.4,416.3 L417.4,416.3 L418.4,416.1 L419.4,416.2 L420.4,416.1 L421.4,416.4 L422.4,416.2 L423.4,416.3 L424.4,416.2 L425.4,416.1 L426.4,416.0 L427.4,416.0 L428.4,415.8 L429.4,416.0 L430.4,416.0 L431.4,415.9 L432.4,416.2 L433.4,415.9 L434.4,416.1 L435.4,415.9 L436.4,416.1 L437.4,416.0 L438.4,416.1 L439.4,415.8 L440.4,415.4 L441.4,415.7 L442.4,415.9 L443.4,416.0 L444.4,415.7 L445.4,415.9 L446.4,416.2 L447.4,416.1 L448.4,416.4 L449.4,416.6 L450.4,416.9 L451.4,416.7 L452.4,416.9 L453.4,416.7 L454.4,416.8 L455.4,416.6 L456.4,416.3 L457.4,416.4 L458.4,416.4 L459.4,416.6 L460.4,416.4 L461.4,416.5 L462.4,416.2 L463.4,416.5 L464.4,416.5 L465.4,416.6 L466.4,415.7 L467.4,415.5 L468.4,415.9 L469.4,415.7 L470.4,416.1 L471.4,416.3 L472.4,416.4 L473.4,416.4 L474.4,416.5 L475.4,416.6 L476.4,416.4 L477.4,416.5 L478.4,416.4 L479.4,416.0 L480.4,416.2 L481.4,416.3 L482.4,415.8 L483.4,416.1 L484.4,416.2 L485.4,416.2 L486.4,416.3 L487.4,416.2 L488.4,415.6 L489.4,416.0 L490.4,416.0" fill="none" stroke="#231f20" stroke-width="1.6" stroke-linejoin="round" stroke-linecap="round"/>
<path d="M377.4,426.0 L378.4,426.0 L379.4,425.6 L380.4,425.7 L381.4,425.6 L382.4,425.7 L383.4,426.2 L384.4,425.9 L385.4,425.9 L386.4,426.4 L387.4,426.4 L388.4,426.3 L389.4,426.5 L390.4,426.3 L391.4,426.5 L392.4,427.0 L393.4,426.6 L394.4,427.1 L395.4,427.0 L396.4,426.8 L397.4,426.5 L398.4,426.6 L399.4,426.6 L400.4,426.6 L401.4,426.7 L402.4,426.6 L403.4,426.8 L404.4,426.7 L405.4,426.2 L406.4,426.2 L407.4,425.5 L408.4,424.5 L409.4,424.0 L410.4,423.9 L411.4,424.1 L412.4,424.8 L413.4,424.9 L414.4,425.5 L415.4,425.9 L416.4,425.9 L417.4,426.4 L418.4,426.2 L419.4,426.7 L420.4,426.3 L421.4,425.9 L422.4,426.0 L423.4,426.1 L424.4,426.1 L425.4,426.3 L426.4,426.0 L427.4,426.4 L428.4,426.6 L429.4,426.7 L430.4,425.8 L431.4,426.5 L432.4,426.5 L433.4,426.3 L434.4,426.1 L435.4,426.6 L436.4,426.4 L437.4,426.7 L438.4,426.5 L439.4,426.6 L440.4,426.4 L441.4,426.4 L442.4,426.4 L443.4,426.4 L444.4,426.4 L445.4,426.1 L446.4,425.9 L447.4,426.0 L448.4,426.2 L449.4,426.2 L450.4,426.5 L451.4,426.2 L452.4,426.7 L453.4,426.7 L454.4,426.4 L455.4,426.3 L456.4,426.4 L457.4,426.7 L458.4,426.4 L459.4,426.1 L460.4,426.5 L461.4,426.1 L462.4,426.5 L463.4,426.5 L464.4,426.2 L465.4,426.0 L466.4,425.9 L467.4,426.0 L468.4,426.0 L469.4,426.4 L470.4,426.4 L471.4,426.4 L472.4,426.2 L473.4,426.4 L474.4,426.6 L475.4,427.0 L476.4,426.7 L477.4,427.0 L478.4,426.6 L479.4,426.6 L480.4,426.1 L481.4,426.1 L482.4,425.9 L483.4,426.0 L484.4,426.3 L485.4,425.6 L486.4,426.2 L487.4,426.2 L488.4,426.2 L489.4,426.5 L490.4,426.1" fill="none" stroke="#231f20" stroke-width="1.6" stroke-linejoin="round" stroke-linecap="round"/>
<path d="M377.4,434.5 L378.4,434.5 L379.4,434.2 L380.4,434.1 L381.4,434.4 L382.4,434.9 L383.4,435.1 L384.4,434.7 L385.4,434.7 L386.4,434.9 L387.4,435.1 L388.4,435.5 L389.4,435.0 L390.4,434.6 L391.4,434.6 L392.4,434.4 L393.4,434.5 L394.4,434.6 L395.4,434.3 L396.4,434.4 L397.4,434.3 L398.4,434.4 L399.4,434.5 L400.4,434.4 L401.4,435.0 L402.4,434.8 L403.4,434.2 L404.4,434.5 L405.4,434.1 L406.4,434.0 L407.4,433.1 L408.4,432.6 L409.4,432.2 L410.4,431.6 L411.4,432.1 L412.4,432.8 L413.4,433.3 L414.4,434.0 L415.4,433.9 L416.4,433.8 L417.4,434.0 L418.4,434.2 L419.4,434.2 L420.4,434.6 L421.4,434.8 L422.4,434.5 L423.4,434.4 L424.4,434.1 L425.4,433.7 L426.4,434.4 L427.4,434.2 L428.4,434.3 L429.4,434.1 L430.4,434.2 L431.4,434.2 L432.4,434.3 L433.4,434.2 L434.4,434.3 L435.4,434.5 L436.4,434.3 L437.4,434.4 L438.4,434.8 L439.4,434.7 L440.4,434.2 L441.4,434.0 L442.4,434.0 L443.4,434.6 L444.4,434.1 L445.4,434.4 L446.4,434.7 L447.4,434.2 L448.4,434.0 L449.4,434.2 L450.4,434.3 L451.4,434.3 L452.4,434.1 L453.4,434.4 L454.4,434.3 L455.4,434.4 L456.4,434.0 L457.4,433.9 L458.4,434.0 L459.4,434.3 L460.4,434.6 L461.4,434.1 L462.4,434.1 L463.4,434.4 L464.4,434.2 L465.4,433.7 L466.4,433.6 L467.4,433.8 L468.4,433.9 L469.4,433.8 L470.4,434.3 L471.4,434.7 L472.4,434.7 L473.4,434.6 L474.4,434.4 L475.4,434.1 L476.4,434.1 L477.4,434.4 L478.4,433.9 L479.4,433.9 L480.4,434.0 L481.4,433.7 L482.4,433.8 L483.4,433.8 L484.4,434.3 L485.4,434.8 L486.4,434.4 L487.4,434.5 L488.4,434.5 L489.4,434.6 L490.4,434.3" fill="none" stroke="#231f20" stroke-width="1.6" stroke-linejoin="round" stroke-linecap="round"/>
<path d="M49.7,595.0 L50.3,594.3 L50.9,593.4 L51.5,593.0 L52.1,594.3 L52.7,594.5 L53.3,592.8 L53.9,593.7 L54.5,593.3 L55.1,594.3 L55.7,593.9 L56.3,593.9 L56.9,593.7 L57.5,592.3 L58.1,592.9 L58.7,592.1 L59.3,590.9 L59.9,592.4 L60.5,592.9 L61.1,592.6 L61.7,593.9 L62.3,593.7 L62.9,595.3 L63.5,595.0 L64.1,594.9 L64.7,594.9 L65.3,594.9 L65.9,592.8 L66.5,593.6 L67.1,593.7 L67.7,593.2 L68.3,592.2 L68.9,592.9 L69.5,591.9 L70.1,592.0 L70.7,591.5 L71.3,592.5 L71.9,592.2 L72.5,591.8 L73.1,593.9 L73.7,593.6 L74.3,592.7 L74.9,594.3 L75.5,593.6 L76.1,593.1 L76.7,593.2 L77.3,594.5 L77.9,594.3 L78.5,593.4 L79.1,593.9 L79.7,593.1 L80.3,592.7 L80.9,593.1 L81.5,592.2 L82.1,593.0 L82.7,592.7 L83.3,593.0 L83.9,591.2 L84.5,591.0 L85.1,591.8 L85.7,592.3 L86.3,592.3 L86.9,592.1 L87.5,592.2 L88.1,592.1 L88.7,592.8 L89.3,592.3 L89.9,593.0 L90.5,594.0 L91.1,594.6 L91.7,593.9 L92.3,593.2 L92.9,592.6 L93.5,592.8 L94.1,591.8 L94.7,592.1 L95.3,592.4 L95.9,593.4 L96.5,594.9 L97.1,593.7 L97.7,593.0 L98.3,593.8 L98.9,593.9 L99.5,594.7 L100.1,594.4 L100.7,595.0 L101.3,594.8 L101.9,594.7 L102.5,594.9 L103.1,596.0 L103.7,594.7 L104.3,595.8 L104.9,594.8 L105.5,595.4 L106.1,594.8 L106.7,595.2 L107.3,595.1 L107.9,594.4 L108.5,594.5 L109.1,594.1 L109.7,595.0 L110.3,595.8 L110.9,594.8 L111.5,594.8 L112.1,595.2 L112.7,595.7 L113.3,595.8 L113.9,594.3 L114.5,595.1 L115.1,595.9 L115.7,594.9 L116.3,595.0 L116.9,594.6 L117.5,594.2 L118.1,593.8 L118.7,594.0 L119.3,593.8 L119.9,594.4 L120.5,594.0 L121.1,595.0 L121.7,594.3 L122.3,593.2 L122.9,592.2 L123.5,593.2 L124.1,593.3 L124.7,593.2 L125.3,592.0 L125.9,590.9 L126.5,590.9 L127.1,589.7 L127.7,588.3 L128.3,583.3 L128.9,579.3 L129.5,576.4 L130.1,577.5 L130.7,578.6 L131.3,583.3 L131.9,587.9 L132.5,590.9 L133.1,592.4 L133.7,592.8 L134.3,593.4 L134.9,594.6 L135.5,595.0 L136.1,595.8 L136.7,594.9 L137.3,595.9 L137.9,595.1 L138.5,595.1 L139.1,595.8 L139.7,595.5 L140.3,593.4 L140.9,595.7 L141.5,595.4 L142.1,595.5 L142.7,594.3 L143.3,594.8 L143.9,595.0 L144.5,594.0 L145.1,593.0 L145.7,592.4 L146.3,593.1 L146.9,593.5 L147.5,593.8 L148.1,593.9 L148.7,595.6 L149.3,595.4 L149.9,594.9 L150.5,594.9 L151.1,593.4 L151.7,594.2 L152.3,594.9 L152.9,593.8 L153.5,594.5 L154.1,592.9 L154.7,593.5 L155.3,593.8 L155.9,594.3 L156.5,594.6 L157.1,595.5 L157.7,594.9 L158.3,595.4 L158.9,595.3 L159.5,594.9 L160.1,596.2 L160.7,595.3 L161.3,594.9 L161.9,594.2" fill="none" stroke="#231f20" stroke-width="2.1" stroke-linejoin="round" stroke-linecap="round"/>
<path d="M129.8,577.5 V528.5" fill="none" stroke="#231f20" stroke-width="1.45" stroke-linejoin="round" stroke-linecap="round"/>
<path d="M214.0,594.4 L214.6,594.0 L215.2,594.9 L215.8,593.8 L216.4,593.7 L217.0,593.6 L217.6,595.0 L218.2,594.5 L218.8,594.0 L219.4,594.2 L220.0,594.1 L220.6,593.1 L221.2,592.9 L221.8,593.3 L222.4,593.6 L223.0,593.5 L223.6,593.7 L224.2,593.5 L224.8,594.0 L225.4,592.8 L226.0,593.4 L226.6,593.1 L227.2,593.2 L227.8,591.7 L228.4,590.8 L229.0,592.8 L229.6,593.1 L230.2,592.6 L230.8,592.7 L231.4,593.1 L232.0,593.9 L232.6,592.6 L233.2,593.0 L233.8,593.1 L234.4,593.4 L235.0,593.5 L235.6,592.3 L236.2,593.2 L236.8,593.9 L237.4,593.7 L238.0,594.1 L238.6,593.8 L239.2,593.6 L239.8,593.3 L240.4,593.3 L241.0,593.6 L241.6,593.9 L242.2,593.3 L242.8,594.0 L243.4,594.2 L244.0,594.5 L244.6,594.7 L245.2,594.2 L245.8,594.6 L246.4,593.9 L247.0,594.5 L247.6,594.3 L248.2,594.3 L248.8,593.8 L249.4,593.5 L250.0,594.2 L250.6,593.5 L251.2,593.7 L251.8,595.3 L252.4,594.0 L253.0,593.7 L253.6,595.4 L254.2,595.6 L254.8,594.7 L255.4,595.5 L256.0,595.1 L256.6,594.8 L257.2,594.7 L257.8,594.6 L258.4,594.3 L259.0,593.5 L259.6,594.1 L260.2,594.6 L260.8,594.5 L261.4,594.2 L262.0,594.0 L262.6,594.3 L263.2,593.7 L263.8,594.1 L264.4,593.6 L265.0,593.4 L265.6,594.5 L266.2,593.4 L266.8,594.2 L267.4,594.2 L268.0,594.8 L268.6,594.4 L269.2,594.4 L269.8,594.6 L270.4,593.7 L271.0,593.8 L271.6,594.8 L272.2,593.8 L272.8,595.1 L273.4,595.7 L274.0,594.7 L274.6,595.6 L275.2,595.2 L275.8,594.5 L276.4,594.6 L277.0,593.9 L277.6,595.1 L278.2,594.1 L278.8,593.8 L279.4,593.9 L280.0,594.0 L280.6,594.3 L281.2,592.8 L281.8,594.0 L282.4,594.0 L283.0,593.6 L283.6,593.8 L284.2,594.2 L284.8,594.8 L285.4,594.7 L286.0,595.7 L286.6,594.3 L287.2,593.9 L287.8,592.5 L288.4,592.5 L289.0,593.2 L289.6,592.6 L290.2,591.4 L290.8,590.5 L291.4,587.3 L292.0,578.7 L292.6,570.4 L293.2,563.9 L293.8,562.6 L294.4,562.9 L295.0,562.5 L295.6,560.6 L296.2,562.8 L296.8,562.3 L297.4,562.1 L298.0,563.7 L298.6,568.5 L299.2,574.9 L299.8,581.1 L300.4,584.9 L301.0,588.5 L301.6,589.9 L302.2,590.6 L302.8,590.7 L303.4,590.7 L304.0,591.6 L304.6,592.4 L305.2,592.0 L305.8,592.0 L306.4,592.0 L307.0,592.2 L307.6,590.7 L308.2,591.3 L308.8,591.6 L309.4,591.9 L310.0,592.6 L310.6,592.4 L311.2,592.7 L311.8,593.0 L312.4,593.4 L313.0,593.2 L313.6,593.0 L314.2,593.8 L314.8,594.7 L315.4,594.9 L316.0,594.1 L316.6,594.9 L317.2,594.6 L317.8,594.6 L318.4,594.5 L319.0,594.6 L319.6,596.0 L320.2,594.8 L320.8,594.9 L321.4,594.9 L322.0,594.4 L322.6,594.4 L323.2,595.0 L323.8,594.0 L324.4,593.6 L325.0,593.1 L325.6,593.5 L326.2,594.9" fill="none" stroke="#231f20" stroke-width="2.1" stroke-linejoin="round" stroke-linecap="round"/>
<path d="M293.3,563.9 V535.0 M295.5,560.6 V535.0 M297.6,562.1 V535.0" fill="none" stroke="#231f20" stroke-width="1.45" stroke-linejoin="round" stroke-linecap="round"/>
<path d="M377.6,596.1 L378.2,596.3 L378.8,595.6 L379.4,595.7 L380.0,596.5 L380.6,594.9 L381.2,595.7 L381.8,595.3 L382.4,594.9 L383.0,594.1 L383.6,594.1 L384.2,594.6 L384.8,593.6 L385.4,592.4 L386.0,593.6 L386.6,594.5 L387.2,594.3 L387.8,593.5 L388.4,594.1 L389.0,594.0 L389.6,594.5 L390.2,594.0 L390.8,594.6 L391.4,595.4 L392.0,595.1 L392.6,594.3 L393.2,596.0 L393.8,595.6 L394.4,596.1 L395.0,596.0 L395.6,595.5 L396.2,595.4 L396.8,596.2 L397.4,596.9 L398.0,596.6 L398.6,595.6 L399.2,596.5 L399.8,597.0 L400.4,596.6 L401.0,596.2 L401.6,596.2 L402.2,595.6 L402.8,595.5 L403.4,596.0 L404.0,595.7 L404.6,597.5 L405.2,596.9 L405.8,597.4 L406.4,597.8 L407.0,597.4 L407.6,597.1 L408.2,597.2 L408.8,598.1 L409.4,597.8 L410.0,597.4 L410.6,596.6 L411.2,596.3 L411.8,595.7 L412.4,594.6 L413.0,593.1 L413.6,591.9 L414.2,589.9 L414.8,590.9 L415.4,590.5 L416.0,591.9 L416.6,592.7 L417.2,594.6 L417.8,594.6 L418.4,595.0 L419.0,594.8 L419.6,593.2 L420.2,593.7 L420.8,593.1 L421.4,593.7 L422.0,594.1 L422.6,595.3 L423.2,595.4 L423.8,594.6 L424.4,594.2 L425.0,595.2 L425.6,595.9 L426.2,596.1 L426.8,595.9 L427.4,595.1 L428.0,595.6 L428.6,594.5 L429.2,595.3 L429.8,595.6 L430.4,596.1 L431.0,596.0 L431.6,597.2 L432.2,597.1 L432.8,596.6 L433.4,596.9 L434.0,597.3 L434.6,596.8 L435.2,598.4 L435.8,597.7 L436.4,597.0 L437.0,597.4 L437.6,597.7 L438.2,598.4 L438.8,598.7 L439.4,599.5 L440.0,599.9 L440.6,599.8 L441.2,599.3 L441.8,599.0 L442.4,599.2 L443.0,599.5 L443.6,599.3 L444.2,599.4 L444.8,599.9 L445.4,600.1 L446.0,600.5 L446.6,599.9 L447.2,599.9 L447.8,599.5 L448.4,599.1 L449.0,599.7 L449.6,599.8 L450.2,599.6 L450.8,600.4 L451.4,600.0 L452.0,599.6 L452.6,599.7 L453.2,597.9 L453.8,597.6 L454.4,598.3 L455.0,599.6 L455.6,599.6 L456.2,599.7 L456.8,598.4 L457.4,599.3 L458.0,598.2 L458.6,598.7 L459.2,599.0 L459.8,599.5 L460.4,598.2 L461.0,599.5 L461.6,598.8 L462.2,599.0 L462.8,599.0 L463.4,599.0 L464.0,598.6 L464.6,598.2 L465.2,598.2 L465.8,599.1 L466.4,598.3 L467.0,598.6 L467.6,598.2 L468.2,599.4 L468.8,597.8 L469.4,597.8 L470.0,597.3 L470.6,597.2 L471.2,597.8 L471.8,597.1 L472.4,596.3 L473.0,597.1 L473.6,597.7 L474.2,596.1 L474.8,596.8 L475.4,596.8 L476.0,596.0 L476.6,595.5 L477.2,596.7 L477.8,596.5 L478.4,596.0 L479.0,596.5 L479.6,596.1 L480.2,596.5 L480.8,596.5 L481.4,596.3 L482.0,597.2 L482.6,596.7 L483.2,596.8 L483.8,597.9 L484.4,597.3 L485.0,596.9 L485.6,597.5 L486.2,597.1 L486.8,596.7 L487.4,598.0 L488.0,598.2 L488.6,597.4 L489.2,597.9 L489.8,596.3" fill="none" stroke="#231f20" stroke-width="2.2" stroke-linejoin="round" stroke-linecap="round"/>
<path d="M576.6,20.7 V248 H673" fill="none" stroke="#231f20" stroke-width="1.25"/>
<line x1="576.6" y1="225.3" x2="579.1" y2="225.3" stroke="#231f20" stroke-width="0.8"/>
<line x1="576.6" y1="202.5" x2="580.1" y2="202.5" stroke="#231f20" stroke-width="0.8"/>
<line x1="576.6" y1="179.8" x2="579.1" y2="179.8" stroke="#231f20" stroke-width="0.8"/>
<line x1="576.6" y1="157.1" x2="580.1" y2="157.1" stroke="#231f20" stroke-width="0.8"/>
<line x1="576.6" y1="134.3" x2="579.1" y2="134.3" stroke="#231f20" stroke-width="0.8"/>
<line x1="576.6" y1="111.6" x2="580.1" y2="111.6" stroke="#231f20" stroke-width="0.8"/>
<line x1="576.6" y1="88.9" x2="579.1" y2="88.9" stroke="#231f20" stroke-width="0.8"/>
<line x1="576.6" y1="66.2" x2="580.1" y2="66.2" stroke="#231f20" stroke-width="0.8"/>
<line x1="576.6" y1="43.4" x2="579.1" y2="43.4" stroke="#231f20" stroke-width="0.8"/>
<line x1="576.6" y1="20.7" x2="580.1" y2="20.7" stroke="#231f20" stroke-width="0.8"/>
<circle cx="628.3" cy="46" r="5.4" fill="#808285"/>
<circle cx="642" cy="42.6" r="5.4" fill="#808285"/>
<circle cx="659.7" cy="47.8" r="5.4" fill="#808285"/>
<circle cx="620.5" cy="61.1" r="5.4" fill="#808285"/>
<circle cx="635.2" cy="64.6" r="5.4" fill="#808285"/>
<circle cx="656.7" cy="80" r="5.4" fill="#808285"/>
<circle cx="643" cy="97.7" r="5.4" fill="#808285"/>
<circle cx="627" cy="158.4" r="5.4" fill="#808285"/>
<circle cx="627" cy="205.8" r="5.4" fill="#808285"/>
<rect x="615.4" y="88.3" width="45.6" height="1.4" fill="#231f20"/>
<path d="M577.1,306.6 V410.2 H683.4" fill="none" stroke="#231f20" stroke-width="1.3"/>
<line x1="577.1" y1="405.8" x2="580.7" y2="405.8" stroke="#231f20" stroke-width="0.9"/>
<line x1="577.1" y1="393.9" x2="579.7" y2="393.9" stroke="#231f20" stroke-width="0.9"/>
<line x1="577.1" y1="381.9" x2="580.7" y2="381.9" stroke="#231f20" stroke-width="0.9"/>
<line x1="577.1" y1="369.9" x2="579.7" y2="369.9" stroke="#231f20" stroke-width="0.9"/>
<line x1="577.1" y1="358.0" x2="580.7" y2="358.0" stroke="#231f20" stroke-width="0.9"/>
<line x1="577.1" y1="346.1" x2="579.7" y2="346.1" stroke="#231f20" stroke-width="0.9"/>
<line x1="577.1" y1="334.1" x2="580.7" y2="334.1" stroke="#231f20" stroke-width="0.9"/>
<line x1="577.1" y1="322.1" x2="579.7" y2="322.1" stroke="#231f20" stroke-width="0.9"/>
<line x1="577.1" y1="310.2" x2="580.7" y2="310.2" stroke="#231f20" stroke-width="0.9"/>
<line x1="577.9" y1="349.2" x2="683.4" y2="349.2" stroke="#231f20" stroke-width="1.1" stroke-dasharray="8.7 3.55"/>
<line x1="577.9" y1="370.6" x2="683.4" y2="370.6" stroke="#231f20" stroke-width="1.1" stroke-dasharray="8.7 3.55"/>
<circle cx="593" cy="335" r="4" fill="#f5c9c9"/>
<circle cx="626.7" cy="331.2" r="4" fill="#f5c9c9"/>
<circle cx="646.6" cy="329.3" r="4" fill="#f5c9c9"/>
<circle cx="674" cy="335" r="4" fill="#f5c9c9"/>
<circle cx="598.7" cy="382" r="4" fill="#f5c9c9"/>
<circle cx="641.2" cy="405.7" r="4" fill="#f5c9c9"/>
<circle cx="582.6" cy="358.5" r="3.45" fill="#b1b3b6" fill-opacity="0.85"/>
<circle cx="590.1" cy="358.5" r="3.45" fill="#b1b3b6" fill-opacity="0.85"/>
<circle cx="597.7" cy="358.5" r="3.45" fill="#b1b3b6" fill-opacity="0.85"/>
<circle cx="603.1" cy="358.5" r="3.45" fill="#b1b3b6" fill-opacity="0.85"/>
<circle cx="608.9" cy="358.5" r="3.45" fill="#b1b3b6" fill-opacity="0.85"/>
<circle cx="615.3" cy="358.5" r="3.45" fill="#b1b3b6" fill-opacity="0.85"/>
<circle cx="621.2" cy="358.5" r="3.45" fill="#b1b3b6" fill-opacity="0.85"/>
<circle cx="627.6" cy="358.5" r="3.45" fill="#b1b3b6" fill-opacity="0.85"/>
<circle cx="635.1" cy="358.5" r="3.45" fill="#b1b3b6" fill-opacity="0.85"/>
<circle cx="642.7" cy="358.5" r="3.45" fill="#b1b3b6" fill-opacity="0.85"/>
<circle cx="651.8" cy="358.5" r="3.45" fill="#b1b3b6" fill-opacity="0.85"/>
<circle cx="659" cy="358.5" r="3.45" fill="#b1b3b6" fill-opacity="0.85"/>
<circle cx="665.7" cy="358.5" r="3.45" fill="#b1b3b6" fill-opacity="0.85"/>
<circle cx="671.9" cy="358.5" r="3.45" fill="#b1b3b6" fill-opacity="0.85"/>
<circle cx="679.1" cy="358.5" r="3.45" fill="#b1b3b6" fill-opacity="0.85"/>
<circle cx="633.8" cy="370.6" r="3.5" fill="#9d9fa2"/>
<line x1="580.9" y1="359.7" x2="682.6" y2="359.7" stroke="#414042" stroke-width="1.4"/>
<path d="M578.3,478.4 V581.3 H681.8" fill="none" stroke="#231f20" stroke-width="1.3"/>
<line x1="578.3" y1="480.9" x2="581.3" y2="480.9" stroke="#231f20" stroke-width="0.8"/>
<line x1="578.3" y1="513.9" x2="581.3" y2="513.9" stroke="#231f20" stroke-width="0.8"/>
<line x1="578.3" y1="546.9" x2="581.3" y2="546.9" stroke="#231f20" stroke-width="0.8"/>
<line x1="612.2" y1="581.3" x2="612.2" y2="578.3" stroke="#231f20" stroke-width="0.8"/>
<line x1="645.5" y1="581.3" x2="645.5" y2="578.3" stroke="#231f20" stroke-width="0.8"/>
<line x1="578.3" y1="523.1" x2="681.8" y2="523.1" stroke="#231f20" stroke-width="1.45"/>
<line x1="578.3" y1="570.7" x2="681.8" y2="570.7" stroke="#231f20" stroke-width="1.45"/>
<circle cx="611.0" cy="556.8" r="4.6" fill="#a7abae" fill-opacity="0.8"/>
<circle cx="645.5" cy="490.8" r="4.6" fill="#f2b8bb" fill-opacity="0.8"/>
<circle cx="611.3" cy="551.0" r="4.6" fill="#a7abae" fill-opacity="0.8"/>
<circle cx="645.5" cy="512.2" r="4.6" fill="#f2b8bb" fill-opacity="0.8"/>
<circle cx="610.8" cy="545.2" r="4.6" fill="#a7abae" fill-opacity="0.8"/>
<circle cx="645.5" cy="516.4" r="4.6" fill="#f2b8bb" fill-opacity="0.8"/>
<circle cx="610.8" cy="530.4" r="4.6" fill="#a7abae" fill-opacity="0.8"/>
<circle cx="645.5" cy="578.2" r="4.6" fill="#f2b8bb" fill-opacity="0.8"/>
<circle cx="612.0" cy="532.9" r="4.6" fill="#a7abae" fill-opacity="0.8"/>
<circle cx="645.5" cy="556.8" r="4.6" fill="#a7abae" fill-opacity="0.8"/>
<circle cx="611.3" cy="553.5" r="4.6" fill="#a7abae" fill-opacity="0.8"/>
<circle cx="645.5" cy="530.4" r="4.6" fill="#a7abae" fill-opacity="0.8"/>
<circle cx="610.8" cy="541.9" r="4.6" fill="#a7abae" fill-opacity="0.8"/>
<circle cx="645.5" cy="537.8" r="4.6" fill="#a7abae" fill-opacity="0.8"/>
<circle cx="611.3" cy="545.2" r="4.6" fill="#a7abae" fill-opacity="0.8"/>
<circle cx="645.5" cy="543.6" r="4.6" fill="#a7abae" fill-opacity="0.8"/>
<circle cx="610.5" cy="550.2" r="4.6" fill="#a7abae" fill-opacity="0.8"/>
<circle cx="645.5" cy="541.1" r="4.6" fill="#a7abae" fill-opacity="0.8"/>
<circle cx="612.0" cy="542.8" r="4.6" fill="#a7abae" fill-opacity="0.8"/>
<circle cx="645.5" cy="551.9" r="4.6" fill="#a7abae" fill-opacity="0.8"/>
<circle cx="612.0" cy="555.1" r="4.6" fill="#a7abae" fill-opacity="0.8"/>
<circle cx="645.5" cy="552.7" r="4.6" fill="#a7abae" fill-opacity="0.8"/>
<circle cx="610.8" cy="546.9" r="4.6" fill="#a7abae" fill-opacity="0.8"/>
<circle cx="645.5" cy="533.7" r="4.6" fill="#a7abae" fill-opacity="0.8"/>
<circle cx="611.8" cy="538.6" r="4.6" fill="#a7abae" fill-opacity="0.8"/>
<circle cx="645.5" cy="554.3" r="4.6" fill="#a7abae" fill-opacity="0.8"/>
<circle cx="610.8" cy="559.3" r="4.6" fill="#a7abae" fill-opacity="0.8"/>
<circle cx="645.5" cy="560.9" r="4.6" fill="#a7abae" fill-opacity="0.8"/>
<circle cx="610.8" cy="544.4" r="4.6" fill="#a7abae" fill-opacity="0.8"/>
<circle cx="645.5" cy="546.9" r="4.6" fill="#a7abae" fill-opacity="0.8"/>
<circle cx="612.0" cy="548.5" r="4.6" fill="#a7abae" fill-opacity="0.8"/>
<circle cx="645.5" cy="539.5" r="4.6" fill="#a7abae" fill-opacity="0.8"/>
<circle cx="611.0" cy="541.1" r="4.6" fill="#a7abae" fill-opacity="0.8"/>
<circle cx="645.5" cy="542.8" r="4.6" fill="#a7abae" fill-opacity="0.8"/>
<circle cx="610.8" cy="551.9" r="4.6" fill="#a7abae" fill-opacity="0.8"/>
<circle cx="645.5" cy="556.0" r="4.6" fill="#a7abae" fill-opacity="0.8"/>
<circle cx="610.5" cy="537.0" r="4.6" fill="#a7abae" fill-opacity="0.8"/>
<circle cx="645.5" cy="545.2" r="4.6" fill="#a7abae" fill-opacity="0.8"/>
<circle cx="610.5" cy="560.1" r="4.6" fill="#a7abae" fill-opacity="0.8"/>
<circle cx="645.5" cy="555.1" r="4.6" fill="#a7abae" fill-opacity="0.8"/>
<circle cx="610.8" cy="546.1" r="4.6" fill="#a7abae" fill-opacity="0.8"/>
<circle cx="645.5" cy="548.5" r="4.6" fill="#a7abae" fill-opacity="0.8"/>
<circle cx="611.0" cy="528.8" r="4.6" fill="#a7abae" fill-opacity="0.8"/>
<circle cx="645.5" cy="541.9" r="4.6" fill="#a7abae" fill-opacity="0.8"/>
<circle cx="611.0" cy="547.7" r="4.6" fill="#a7abae" fill-opacity="0.8"/>
<circle cx="645.5" cy="527.9" r="4.6" fill="#a7abae" fill-opacity="0.8"/>
<circle cx="610.5" cy="543.6" r="4.6" fill="#a7abae" fill-opacity="0.8"/>
<circle cx="645.5" cy="537.0" r="4.6" fill="#a7abae" fill-opacity="0.8"/>
<line x1="611.3" y1="556.8" x2="645.5" y2="490.8" stroke="#231f20" stroke-width="0.95"/>
<line x1="611.3" y1="551.0" x2="645.5" y2="512.2" stroke="#231f20" stroke-width="0.95"/>
<line x1="611.3" y1="545.2" x2="645.5" y2="516.4" stroke="#231f20" stroke-width="0.95"/>
<line x1="611.3" y1="530.4" x2="645.5" y2="578.2" stroke="#231f20" stroke-width="0.95"/>
<line x1="611.3" y1="532.9" x2="645.5" y2="556.8" stroke="#231f20" stroke-width="0.95"/>
<line x1="611.3" y1="553.5" x2="645.5" y2="530.4" stroke="#231f20" stroke-width="0.95"/>
<line x1="611.3" y1="541.9" x2="645.5" y2="537.8" stroke="#231f20" stroke-width="0.95"/>
<line x1="611.3" y1="545.2" x2="645.5" y2="543.6" stroke="#231f20" stroke-width="0.95"/>
<line x1="611.3" y1="550.2" x2="645.5" y2="541.1" stroke="#231f20" stroke-width="0.95"/>
<line x1="611.3" y1="542.8" x2="645.5" y2="551.9" stroke="#231f20" stroke-width="0.95"/>
<line x1="611.3" y1="555.1" x2="645.5" y2="552.7" stroke="#231f20" stroke-width="0.95"/>
<line x1="611.3" y1="546.9" x2="645.5" y2="533.7" stroke="#231f20" stroke-width="0.95"/>
<line x1="611.3" y1="538.6" x2="645.5" y2="554.3" stroke="#231f20" stroke-width="0.95"/>
<line x1="611.3" y1="559.3" x2="645.5" y2="560.9" stroke="#231f20" stroke-width="0.95"/>
<line x1="611.3" y1="544.4" x2="645.5" y2="546.9" stroke="#231f20" stroke-width="0.95"/>
<line x1="611.3" y1="548.5" x2="645.5" y2="539.5" stroke="#231f20" stroke-width="0.95"/>
<line x1="611.3" y1="541.1" x2="645.5" y2="542.8" stroke="#231f20" stroke-width="0.95"/>
<line x1="611.3" y1="551.9" x2="645.5" y2="556.0" stroke="#231f20" stroke-width="0.95"/>
<line x1="611.3" y1="537.0" x2="645.5" y2="545.2" stroke="#231f20" stroke-width="0.95"/>
<line x1="611.3" y1="560.1" x2="645.5" y2="555.1" stroke="#231f20" stroke-width="0.95"/>
<line x1="611.3" y1="546.1" x2="645.5" y2="548.5" stroke="#231f20" stroke-width="0.95"/>
<line x1="611.3" y1="528.8" x2="645.5" y2="541.9" stroke="#231f20" stroke-width="0.95"/>
<line x1="611.3" y1="547.7" x2="645.5" y2="527.9" stroke="#231f20" stroke-width="0.95"/>
<line x1="611.3" y1="543.6" x2="645.5" y2="537.0" stroke="#231f20" stroke-width="0.95"/>
<path d="M75.8,180.4 L80.4,181 Q81.2,190 77.6,199 Q76,203.8 74,205.2 L62,207.9 Q59.6,207.6 60.6,205.6 Q66,198 69.5,190 Q72.5,184 75.8,180.4 Z" fill="#6b3d10"/>
<path d="M33,180.5 L19.5,186.3 Q17,188.2 18.8,190.3 Q20,191 22,190.3 L36,184.6 Z" fill="#e6e7e8"/>
<path d="M31,181.6 L33,185.8 M28.2,182.8 L30,187 M25.4,184 L27,188.2 M22.6,185.2 L24,189.4 M20.2,186.6 L21.3,190" stroke="#58595b" stroke-width="1.0" fill="none"/>
<path d="M36,183 Q50,190.5 58,192 Q64,192.5 68,188 Q76,182 79,172 L70,176 L45,180 Z" fill="#bcbec0"/>
<path d="M79.6,145.7 Q73.5,145.2 69,149.5 Q58,158 45,169.5 Q37,176 31.5,181.5 Q34,185 40,185.5 Q52,187 62,184 Q72,180 77,172 Q81,165 83,158.5 Q88,156 87.8,151 Q86,146 79.6,145.7 Z" fill="#808285"/>
<path d="M32,181 Q37,176 44,172.5 L46.5,180.5 Q40,184 35.5,184.8 Z" fill="#58595b"/>
<path d="M45.8,181.2 Q56,178.6 66.3,177 Q69.6,177.2 70.4,178.8 Q66,183.5 59.7,186.2 Q53,187.4 47.3,186.9 Z" fill="#7a4a1e"/>
<g fill="#efe9df"><circle cx="49" cy="183" r="0.55"/><circle cx="52" cy="181.6" r="0.55"/><circle cx="55" cy="183.6" r="0.55"/><circle cx="58" cy="181" r="0.55"/><circle cx="61" cy="182.8" r="0.55"/><circle cx="64" cy="180.2" r="0.55"/><circle cx="51" cy="185.3" r="0.55"/><circle cx="57" cy="185.2" r="0.55"/><circle cx="62" cy="184.6" r="0.55"/><circle cx="66.5" cy="179.3" r="0.55"/><circle cx="54.2" cy="180.4" r="0.55"/><circle cx="60" cy="179.6" r="0.55"/></g>
<path d="M71.5,161.6 Q75,158.2 83,158.2 Q85,163.5 82.6,169.5 Q80,174.8 75.5,175.6 Q69.6,173.4 68.6,167.5 Q69,163.6 71.5,161.6 Z" fill="#dcddde"/>
<path d="M79,159.6 L83.6,159.2 M78.6,161.6 L84.2,161.2 M78.5,163.7 L84.2,163.4 M78,165.8 L83.8,165.8 M77.5,168 L83,168.2 M77,170.2 L81.8,170.6 M76.5,172.2 L80.3,172.8" stroke="#3a3a3c" stroke-width="0.9" fill="none" stroke-dasharray="1.3 0.9"/>
<path d="M71.5,165 H76 M71.3,167 H76 M71.5,169 H75.5" stroke="#a7a9ac" stroke-width="0.6" fill="none"/>
<ellipse cx="75.3" cy="155.8" rx="5.2" ry="4.9" fill="url(#cheek)"/>
<path d="M80.6,152.4 Q81.6,155.5 81,158.6 L83,158.4 Q83.6,155 82.6,152.4 Z" fill="#e6e7e8"/>
<path d="M80.7,152.4 Q81.6,155.5 81,158.6" stroke="#231f20" stroke-width="0.7" fill="none"/>
<path d="M86.6,148.2 Q91.4,149.6 94.2,154.1 Q90,156.4 84.9,156.2 Q84.4,151.6 86.6,148.2 Z" fill="#f0763a"/>
<path d="M91.6,151 Q93.6,152.4 94.3,153.9 Q93,154.9 91.3,155.6 Q92.3,153.4 91.6,151 Z" fill="#8a7a78"/>
<circle cx="81.4" cy="150.2" r="1.05" fill="#231f20"/>
<ellipse cx="55.5" cy="192.5" rx="3" ry="2.6" fill="#9d9fa2"/>
<path d="M57.5,195 L63,199.5 Q68,202.6 73,202.2 M63,199.5 L66,198.2 M70.5,186.5 Q75,184.8 80.5,188.6 M71,185.5 Q76,187.6 79.8,192" stroke="#f7941d" stroke-width="1.7" fill="none" stroke-linecap="round"/>
<path d="M73.7,124.8 H80.7 V143.4 L83.4,146.6 H73.2 L73.7,143.4 Z" fill="#f1f2f2" stroke="#414042" stroke-width="0.45" stroke-linejoin="round"/>
<path d="M73.7,134 H80.7 M73.7,143.4 H80.7" stroke="#a7a9ac" stroke-width="0.4" fill="none"/>
<path d="M73.7,127.2 H70.2 V126.6 H68.6 V130 H70.2 V129.4 H73.7 Z M73.7,135 H70.4 V134.2 H68.5 V139 H70.4 V138 H73.7 Z" fill="#f1f2f2" stroke="#414042" stroke-width="0.45" stroke-linejoin="round"/>
<path d="M71.4,126.8 V129.8 M71.6,134.6 V138.4" stroke="#414042" stroke-width="0.5" fill="none"/>
<rect x="75.3" y="138.3" width="4.6" height="3.7" fill="#00aeef" stroke="#1b4f72" stroke-width="0.35"/>
<path d="M81.1,133.9 L82.8,134.4 L84,139.3 L81.7,139.7 Z" fill="#9b1d8f"/>
<path d="M72.9,119.2 Q72.1,121.5 72.6,123.6 Q73,126.6 74.4,128.4 Q75.8,129.9 78,129.7 L80.4,129.4 Q81.6,130.4 81.9,132.8" stroke="#3b0a12" stroke-width="2.1" fill="none" stroke-linecap="round"/>
<path d="M72.9,119.2 Q72.1,121.5 72.6,123.6 Q73,126.6 74.4,128.4 Q75.8,129.9 78,129.7 L80.4,129.4 Q81.6,130.4 81.9,132.8" stroke="#b5203a" stroke-width="1.4" fill="none" stroke-linecap="round"/>
<path d="M203.4,179.6 L219.6,183.8 Q213,187 208.5,192.5 Q205.5,200 204.8,210.2 L190.8,210.2 Q193,198 197.5,189.5 Q200,183.5 203.4,179.6 Z" fill="#6b3d10"/>
<path d="M186,163 Q192,172.5 203,177.6 Q215,182.6 231,182.6 Q241,182.4 247,180 L238,172.5 L205,165 Z" fill="#bcbec0"/>
<path d="M186,133.9 Q179,133.6 176.2,137.6 Q176,142.5 178.4,147.5 Q180.6,155.5 184.5,162 Q188,167.5 195,168.6 Q206,169.6 214,171 Q228,174.8 239,175.4 Q247,174.2 250.6,171 Q243,163.5 234,157.5 Q222,149.5 212,145.2 Q201,140 195,136.6 Q190.6,134 186,133.9 Z" fill="#808285"/>
<path d="M216,152.6 Q224,154.5 233,160 Q243,166.5 250.5,171 Q247,175 239,175.6 Q226,173.2 214,170.2 Q224,169 232,170 Q222,162 216,152.6 Z" fill="#6d6e71"/>
<path d="M217.5,153.6 Q226,158.5 234,165.2 Q239,169 242,172.6" stroke="#939598" stroke-width="1.1" fill="none"/>
<path d="M232,173.8 L244,172.6 L251.5,170.4 L273.8,177.2 Q271,182 263.4,184.8 Q254,182.6 246,179.6 L232.5,176.2 Z" fill="#414042"/>
<g fill="#f1f2f2"><ellipse cx="236.9" cy="174.9" rx="1.2" ry="1.0" transform="rotate(18 236.9 174.9)"/><ellipse cx="240.9" cy="175.6" rx="1.5" ry="1.15" transform="rotate(18 240.9 175.6)"/><ellipse cx="245" cy="175.5" rx="1.7" ry="1.3" transform="rotate(18 245 175.5)"/><ellipse cx="249.6" cy="176.3" rx="1.8" ry="1.35" transform="rotate(18 249.6 176.3)"/><ellipse cx="254" cy="177.4" rx="1.8" ry="1.35" transform="rotate(18 254 177.4)"/><ellipse cx="258.2" cy="179" rx="1.7" ry="1.3" transform="rotate(18 258.2 179)"/><ellipse cx="262.3" cy="180.4" rx="1.6" ry="1.2" transform="rotate(18 262.3 180.4)"/><ellipse cx="234" cy="174.4" rx="0.8" ry="0.7" transform="rotate(18 234 174.4)"/></g>
<path d="M178.6,146 Q180.2,148.6 180.8,152 L182.2,151.6 Q181.6,148 180.4,145.4 Z" fill="#f1f2f2"/>
<path d="M180.3,143.6 Q181.8,148 182.2,152" stroke="#231f20" stroke-width="0.7" fill="none"/>
<path d="M167,141.4 Q171.5,138 176.4,136.1 Q178.2,140.6 177.2,145.9 Q171.6,144.6 167,141.4 Z" fill="#f15a3c"/>
<circle cx="182.1" cy="140.2" r="1.05" fill="#231f20"/>
<path d="M214,180 L217.5,184.2 L220.4,183" stroke="#9d9fa2" stroke-width="2.2" fill="none"/>
<path d="M194.8,192.8 Q202,190.4 210.6,186.2 M201,190.6 Q204,193 206.4,196.4 M203,180.8 Q205,183 207.4,187.4 M210.6,186.2 L213.4,184" stroke="#f7941d" stroke-width="1.9" fill="none" stroke-linecap="round"/>
<text x="10.7" y="11" class="b">A</text>
<text x="269" y="10.7" class="b">B</text>
<text x="511.3" y="10.6" class="b">C</text>
<text x="11.1" y="266" class="b">D</text>
<text x="360.7" y="264.7" class="b">E</text>
<text x="511.7" y="264" class="b">F</text>
<text x="512.1" y="457.4" class="b">G</text>
<text x="407.6" y="14.4" class="b" text-anchor="middle">Juvenile (77 dph)</text>
<text x="105.4" y="269" class="b" text-anchor="middle">Neuron 1</text>
<text x="275.4" y="269" class="b" text-anchor="middle">Neuron 2</text>
<text x="438.8" y="269" class="b" text-anchor="middle">Neuron 1</text>
<text x="117.6" y="28.3" class="o">+</text><text transform="translate(125.5,29.8) scale(1,1.1)" class="fem">♀</text>
<text x="227.2" y="49.8" text-anchor="end" style="fill:#fff">100 ms</text>
<text x="491" y="102.6" text-anchor="end">100 ms</text>
<text x="313" y="117">20 mV</text>
<text x="571" y="25.7" text-anchor="end">1</text>
<text x="571" y="71.7" text-anchor="end">0.8</text>
<text x="571" y="117" text-anchor="end">0.6</text>
<text x="571" y="162.2" text-anchor="end">0.4</text>
<text x="571" y="207.4" text-anchor="end">0.2</text>
<text transform="translate(539.6,124.1) rotate(-90)" text-anchor="middle">Subthreshold correlation</text>
<text x="167.4" y="284" text-anchor="end">100 ms</text>
<text x="44.8" y="295" text-anchor="end">7</text>
<text x="42.5" y="325.5" text-anchor="end">kHz</text>
<text x="44.3" y="357" text-anchor="end">1</text>
<text x="5.6" y="371">20 mV</text>
<text x="167.8" y="370.2">20 mV</text>
<text x="329.7" y="370.2">20 mV</text>
<text x="-0.2" y="539.5">20 mV</text>
<text x="168.3" y="539.5">20 mV</text>
<text x="329.8" y="539.5">20 mV</text>
<text x="572.6" y="315.1" text-anchor="end">2</text>
<text x="572.6" y="338.4" text-anchor="end">1</text>
<text x="572.6" y="362.2" text-anchor="end">0</text>
<text x="572.6" y="386.6" text-anchor="end">-1</text>
<text x="572.6" y="408.8" text-anchor="end">-2</text>
<text transform="translate(543.5,357.7) rotate(-90)" text-anchor="middle">Δ Number of spikes</text>
<text x="576.3" y="427.9" class="o">+</text><text transform="translate(584.2,430.7) scale(1,1.1)" class="fem">♀</text>
<text x="599.5" y="428">Perturbations</text>
<text x="573.5" y="486.2" text-anchor="end">4</text>
<text x="573.5" y="518.9" text-anchor="end">2</text>
<text x="573.5" y="551.9" text-anchor="end">0</text>
<text x="573.5" y="585.5" text-anchor="end">-2</text>
<text transform="translate(550,536) rotate(-90)" text-anchor="middle">Δ Subthreshold (mV)</text>
<text x="606.8" y="596.6" text-anchor="middle">Singing</text>
<text x="642.6" y="596.2" class="o">+</text><text transform="translate(650.5,598.0) scale(1,1.1)" class="fem">♀</text>
</svg>
</body></html>
